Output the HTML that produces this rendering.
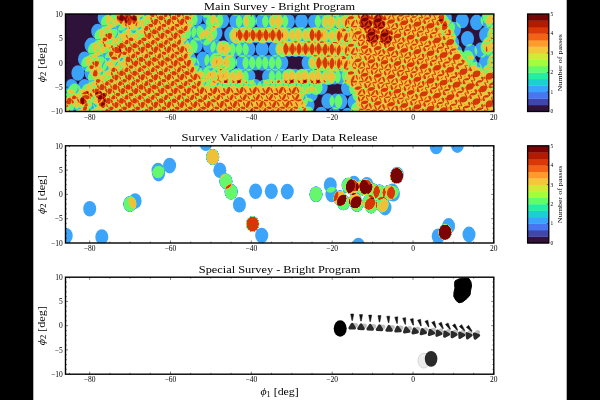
<!DOCTYPE html>
<html><head><meta charset="utf-8"><title>Survey coverage</title>
<style>
html,body{margin:0;padding:0;background:#000;width:600px;height:400px;overflow:hidden}
svg{display:block;position:absolute;left:0;top:0}
text{font-family:"Liberation Serif","DejaVu Serif",serif;fill:#000}
.tk{font-size:7.5px}
.ti{font-size:10.6px}
.al{font-size:10.6px}
.cb{font-size:5.4px}
.cl{font-size:7px}
</style></head><body>
<svg width="600" height="400" viewBox="0 0 600 400">
<defs>
<filter id="m1" x="0" y="0" width="100%" height="100%" filterUnits="objectBoundingBox" color-interpolation-filters="sRGB"><feColorMatrix type="matrix" values="0 0 0 1 0 0 0 0 1 0 0 0 0 1 0 0 0 0 0 1"/><feComponentTransfer><feFuncR type="table" tableValues="0.188 0.191 0.193 0.196 0.198 0.201 0.203 0.206 0.208 0.211 0.213 0.216 0.218 0.221 0.223 0.226 0.231 0.244 0.257 0.27 0.282 0.295 0.308 0.321 0.334 0.347 0.36 0.373 0.409 0.474 0.539 0.604 0.669 0.734 0.799 0.864 0.929 0.948 0.933 0.917 0.902 0.887 0.871 0.856 0.784 0.709 0.633 0.558 0.482 0.478 0.478 0.478 0.478 0.478 0.478 0.478 0.478 0.478 0.478 0.478 0.478 0.478 0.478 0.478"/><feFuncG type="table" tableValues="0.071 0.107 0.143 0.179 0.215 0.251 0.287 0.323 0.359 0.396 0.432 0.468 0.504 0.54 0.576 0.612 0.647 0.676 0.706 0.735 0.765 0.794 0.824 0.853 0.883 0.913 0.942 0.972 0.978 0.955 0.931 0.908 0.884 0.861 0.837 0.814 0.79 0.732 0.648 0.564 0.481 0.397 0.313 0.229 0.185 0.143 0.101 0.059 0.018 0.016 0.016 0.016 0.016 0.016 0.016 0.016 0.016 0.016 0.016 0.016 0.016 0.016 0.016 0.016"/><feFuncB type="table" tableValues="0.231 0.279 0.327 0.376 0.424 0.472 0.52 0.568 0.616 0.664 0.712 0.76 0.808 0.856 0.904 0.952 0.976 0.928 0.881 0.833 0.785 0.737 0.689 0.642 0.594 0.546 0.498 0.45 0.414 0.392 0.37 0.347 0.325 0.303 0.281 0.259 0.237 0.21 0.18 0.15 0.12 0.09 0.06 0.029 0.025 0.021 0.018 0.015 0.012 0.012 0.012 0.012 0.012 0.012 0.012 0.012 0.012 0.012 0.012 0.012 0.012 0.012 0.012 0.012"/></feComponentTransfer><feGaussianBlur stdDeviation="0.45"/></filter>
<filter id="m2" x="0" y="0" width="100%" height="100%" filterUnits="objectBoundingBox" color-interpolation-filters="sRGB"><feColorMatrix type="matrix" values="0 0 0 1 0 0 0 0 1 0 0 0 0 1 0 0 0 0 0 1"/><feComponentTransfer><feFuncR type="table" tableValues="1 0.951 0.902 0.853 0.804 0.755 0.706 0.657 0.608 0.559 0.509 0.46 0.411 0.362 0.313 0.264 0.231 0.244 0.257 0.27 0.282 0.295 0.308 0.321 0.334 0.347 0.36 0.373 0.409 0.474 0.539 0.604 0.669 0.734 0.799 0.864 0.929 0.948 0.933 0.917 0.902 0.887 0.871 0.856 0.784 0.709 0.633 0.558 0.482 0.478 0.478 0.478 0.478 0.478 0.478 0.478 0.478 0.478 0.478 0.478 0.478 0.478 0.478 0.478"/><feFuncG type="table" tableValues="1 0.977 0.954 0.931 0.908 0.885 0.863 0.84 0.817 0.794 0.771 0.748 0.725 0.702 0.679 0.656 0.647 0.676 0.706 0.735 0.765 0.794 0.824 0.853 0.883 0.913 0.942 0.972 0.978 0.955 0.931 0.908 0.884 0.861 0.837 0.814 0.79 0.732 0.648 0.564 0.481 0.397 0.313 0.229 0.185 0.143 0.101 0.059 0.018 0.016 0.016 0.016 0.016 0.016 0.016 0.016 0.016 0.016 0.016 0.016 0.016 0.016 0.016 0.016"/><feFuncB type="table" tableValues="1 0.999 0.999 0.998 0.997 0.996 0.996 0.995 0.994 0.993 0.993 0.992 0.991 0.99 0.99 0.989 0.976 0.928 0.881 0.833 0.785 0.737 0.689 0.642 0.594 0.546 0.498 0.45 0.414 0.392 0.37 0.347 0.325 0.303 0.281 0.259 0.237 0.21 0.18 0.15 0.12 0.09 0.06 0.029 0.025 0.021 0.018 0.015 0.012 0.012 0.012 0.012 0.012 0.012 0.012 0.012 0.012 0.012 0.012 0.012 0.012 0.012 0.012 0.012"/></feComponentTransfer><feGaussianBlur stdDeviation="0.45"/></filter>
<clipPath id="c1"><rect x="65.5" y="14.0" width="428.3" height="97.5"/></clipPath>
<clipPath id="c2"><rect x="65.5" y="145.8" width="428.3" height="97.2"/></clipPath>
<clipPath id="c3"><rect x="65.5" y="277.2" width="428.3" height="97.0"/></clipPath>
</defs>
<rect x="33.3" y="0" width="533.4" height="400" fill="#fff"/>
<g filter="url(#m1)" clip-path="url(#c1)"><rect x="62.5" y="11.0" width="434.3" height="103.5" fill="#000" fill-opacity="0"/><g fill="#000" fill-opacity="0.25">
<ellipse cx="485.6" cy="7.2" rx="6.5" ry="7.8"/><ellipse cx="498.8" cy="9.7" rx="6.5" ry="7.8"/><ellipse cx="124.0" cy="4.0" rx="6.5" ry="7.8"/><ellipse cx="137.1" cy="4.0" rx="6.5" ry="7.8"/>
<ellipse cx="150.3" cy="4.0" rx="6.5" ry="7.8"/><ellipse cx="163.4" cy="4.0" rx="6.5" ry="7.8"/><ellipse cx="176.6" cy="4.0" rx="6.5" ry="7.8"/><ellipse cx="189.7" cy="4.0" rx="6.5" ry="7.8"/>
<ellipse cx="202.9" cy="4.0" rx="6.5" ry="7.8"/><ellipse cx="216.0" cy="5.4" rx="6.5" ry="7.8"/><ellipse cx="229.2" cy="7.5" rx="6.5" ry="7.8"/><ellipse cx="242.3" cy="7.5" rx="6.5" ry="7.8"/>
<ellipse cx="255.5" cy="7.5" rx="6.5" ry="7.8"/><ellipse cx="268.6" cy="7.5" rx="6.5" ry="7.8"/><ellipse cx="281.8" cy="7.5" rx="6.5" ry="7.8"/><ellipse cx="294.9" cy="7.5" rx="6.5" ry="7.8"/>
<ellipse cx="308.1" cy="7.5" rx="6.5" ry="7.8"/><ellipse cx="321.2" cy="7.7" rx="6.5" ry="7.8"/><ellipse cx="334.4" cy="8.1" rx="6.5" ry="7.8"/><ellipse cx="347.5" cy="6.9" rx="6.5" ry="7.8"/>
<ellipse cx="360.7" cy="5.8" rx="6.5" ry="7.8"/><ellipse cx="373.8" cy="6.7" rx="6.5" ry="7.8"/><ellipse cx="387.0" cy="7.7" rx="6.5" ry="7.8"/><ellipse cx="400.1" cy="9.0" rx="6.5" ry="7.8"/>
<ellipse cx="413.3" cy="10.3" rx="6.5" ry="7.8"/><ellipse cx="426.4" cy="11.9" rx="6.5" ry="7.8"/><ellipse cx="439.6" cy="13.6" rx="6.5" ry="7.8"/><ellipse cx="492.2" cy="22.2" rx="6.5" ry="7.8"/>
<ellipse cx="104.2" cy="17.8" rx="6.5" ry="7.8"/><ellipse cx="117.4" cy="17.8" rx="6.5" ry="7.8"/><ellipse cx="130.5" cy="17.8" rx="6.5" ry="7.8"/><ellipse cx="156.8" cy="17.8" rx="6.5" ry="7.8"/>
<ellipse cx="170.0" cy="17.8" rx="6.5" ry="7.8"/><ellipse cx="183.1" cy="17.8" rx="6.5" ry="7.8"/><ellipse cx="196.3" cy="17.8" rx="6.5" ry="7.8"/><ellipse cx="209.4" cy="18.1" rx="6.5" ry="7.8"/>
<ellipse cx="222.6" cy="20.6" rx="6.5" ry="7.8"/><ellipse cx="235.8" cy="21.3" rx="6.5" ry="7.8"/><ellipse cx="248.9" cy="21.3" rx="6.5" ry="7.8"/><ellipse cx="262.1" cy="21.3" rx="6.5" ry="7.8"/>
<ellipse cx="275.2" cy="21.3" rx="6.5" ry="7.8"/><ellipse cx="288.4" cy="21.3" rx="6.5" ry="7.8"/><ellipse cx="301.5" cy="21.3" rx="6.5" ry="7.8"/><ellipse cx="314.6" cy="21.4" rx="6.5" ry="7.8"/>
<ellipse cx="327.8" cy="21.7" rx="6.5" ry="7.8"/><ellipse cx="340.9" cy="21.6" rx="6.5" ry="7.8"/><ellipse cx="354.1" cy="19.7" rx="6.5" ry="7.8"/><ellipse cx="367.2" cy="20.0" rx="6.5" ry="7.8"/>
<ellipse cx="380.4" cy="21.0" rx="6.5" ry="7.8"/><ellipse cx="393.6" cy="22.1" rx="6.5" ry="7.8"/><ellipse cx="406.7" cy="23.4" rx="6.5" ry="7.8"/><ellipse cx="419.9" cy="24.9" rx="6.5" ry="7.8"/>
<ellipse cx="433.0" cy="26.5" rx="6.5" ry="7.8"/><ellipse cx="485.6" cy="34.8" rx="6.5" ry="7.8"/><ellipse cx="498.8" cy="37.3" rx="6.5" ry="7.8"/><ellipse cx="97.7" cy="31.6" rx="6.5" ry="7.8"/>
<ellipse cx="110.8" cy="31.6" rx="6.5" ry="7.8"/><ellipse cx="124.0" cy="31.6" rx="6.5" ry="7.8"/><ellipse cx="150.3" cy="31.6" rx="6.5" ry="7.8"/><ellipse cx="163.4" cy="31.6" rx="6.5" ry="7.8"/>
<ellipse cx="176.6" cy="31.6" rx="6.5" ry="7.8"/><ellipse cx="189.7" cy="31.6" rx="6.5" ry="7.8"/><ellipse cx="202.9" cy="31.6" rx="6.5" ry="7.8"/><ellipse cx="216.0" cy="33.0" rx="6.5" ry="7.8"/>
<ellipse cx="242.3" cy="35.1" rx="6.5" ry="7.8"/><ellipse cx="255.5" cy="35.1" rx="6.5" ry="7.8"/><ellipse cx="268.6" cy="35.1" rx="6.5" ry="7.8"/><ellipse cx="281.8" cy="35.1" rx="6.5" ry="7.8"/>
<ellipse cx="294.9" cy="35.1" rx="6.5" ry="7.8"/><ellipse cx="308.1" cy="35.1" rx="6.5" ry="7.8"/><ellipse cx="321.2" cy="35.3" rx="6.5" ry="7.8"/><ellipse cx="334.4" cy="35.7" rx="6.5" ry="7.8"/>
<ellipse cx="347.5" cy="34.5" rx="6.5" ry="7.8"/><ellipse cx="360.7" cy="33.4" rx="6.5" ry="7.8"/><ellipse cx="373.8" cy="34.3" rx="6.5" ry="7.8"/><ellipse cx="387.0" cy="35.3" rx="6.5" ry="7.8"/>
<ellipse cx="400.1" cy="36.6" rx="6.5" ry="7.8"/><ellipse cx="413.3" cy="37.9" rx="6.5" ry="7.8"/><ellipse cx="426.4" cy="39.5" rx="6.5" ry="7.8"/><ellipse cx="439.6" cy="41.2" rx="6.5" ry="7.8"/>
<ellipse cx="452.7" cy="43.1" rx="6.5" ry="7.8"/><ellipse cx="492.2" cy="49.8" rx="6.5" ry="7.8"/><ellipse cx="91.1" cy="45.4" rx="6.5" ry="7.8"/><ellipse cx="104.2" cy="45.4" rx="6.5" ry="7.8"/>
<ellipse cx="117.4" cy="45.4" rx="6.5" ry="7.8"/><ellipse cx="130.5" cy="45.4" rx="6.5" ry="7.8"/><ellipse cx="143.7" cy="45.4" rx="6.5" ry="7.8"/><ellipse cx="156.8" cy="45.4" rx="6.5" ry="7.8"/>
<ellipse cx="170.0" cy="45.4" rx="6.5" ry="7.8"/><ellipse cx="183.1" cy="45.4" rx="6.5" ry="7.8"/><ellipse cx="196.3" cy="45.4" rx="6.5" ry="7.8"/><ellipse cx="209.4" cy="45.7" rx="6.5" ry="7.8"/>
<ellipse cx="222.6" cy="48.2" rx="6.5" ry="7.8"/><ellipse cx="235.8" cy="48.9" rx="6.5" ry="7.8"/><ellipse cx="248.9" cy="48.9" rx="6.5" ry="7.8"/><ellipse cx="262.1" cy="48.9" rx="6.5" ry="7.8"/>
<ellipse cx="275.2" cy="48.9" rx="6.5" ry="7.8"/><ellipse cx="288.4" cy="48.9" rx="6.5" ry="7.8"/><ellipse cx="301.5" cy="48.9" rx="6.5" ry="7.8"/><ellipse cx="314.6" cy="49.0" rx="6.5" ry="7.8"/>
<ellipse cx="327.8" cy="49.3" rx="6.5" ry="7.8"/><ellipse cx="340.9" cy="49.2" rx="6.5" ry="7.8"/><ellipse cx="354.1" cy="47.3" rx="6.5" ry="7.8"/><ellipse cx="367.2" cy="47.6" rx="6.5" ry="7.8"/>
<ellipse cx="380.4" cy="48.6" rx="6.5" ry="7.8"/><ellipse cx="393.6" cy="49.7" rx="6.5" ry="7.8"/><ellipse cx="406.7" cy="51.0" rx="6.5" ry="7.8"/><ellipse cx="419.9" cy="52.5" rx="6.5" ry="7.8"/>
<ellipse cx="433.0" cy="54.1" rx="6.5" ry="7.8"/><ellipse cx="446.1" cy="55.9" rx="6.5" ry="7.8"/><ellipse cx="459.3" cy="57.9" rx="6.5" ry="7.8"/><ellipse cx="485.6" cy="62.4" rx="6.5" ry="7.8"/>
<ellipse cx="498.8" cy="64.9" rx="6.5" ry="7.8"/><ellipse cx="84.5" cy="59.2" rx="6.5" ry="7.8"/><ellipse cx="97.7" cy="59.2" rx="6.5" ry="7.8"/><ellipse cx="110.8" cy="59.2" rx="6.5" ry="7.8"/>
<ellipse cx="124.0" cy="59.2" rx="6.5" ry="7.8"/><ellipse cx="137.1" cy="59.2" rx="6.5" ry="7.8"/><ellipse cx="150.3" cy="59.2" rx="6.5" ry="7.8"/><ellipse cx="163.4" cy="59.2" rx="6.5" ry="7.8"/>
<ellipse cx="176.6" cy="59.2" rx="6.5" ry="7.8"/><ellipse cx="189.7" cy="59.2" rx="6.5" ry="7.8"/><ellipse cx="202.9" cy="59.2" rx="6.5" ry="7.8"/><ellipse cx="216.0" cy="60.6" rx="6.5" ry="7.8"/>
<ellipse cx="229.2" cy="62.7" rx="6.5" ry="7.8"/><ellipse cx="242.3" cy="62.7" rx="6.5" ry="7.8"/><ellipse cx="255.5" cy="62.7" rx="6.5" ry="7.8"/><ellipse cx="268.6" cy="62.7" rx="6.5" ry="7.8"/>
<ellipse cx="281.8" cy="62.7" rx="6.5" ry="7.8"/><ellipse cx="308.1" cy="62.7" rx="6.5" ry="7.8"/><ellipse cx="321.2" cy="62.9" rx="6.5" ry="7.8"/><ellipse cx="334.4" cy="63.3" rx="6.5" ry="7.8"/>
<ellipse cx="347.5" cy="62.1" rx="6.5" ry="7.8"/><ellipse cx="360.7" cy="61.0" rx="6.5" ry="7.8"/><ellipse cx="373.8" cy="61.9" rx="6.5" ry="7.8"/><ellipse cx="387.0" cy="62.9" rx="6.5" ry="7.8"/>
<ellipse cx="400.1" cy="64.2" rx="6.5" ry="7.8"/><ellipse cx="413.3" cy="65.5" rx="6.5" ry="7.8"/><ellipse cx="426.4" cy="67.1" rx="6.5" ry="7.8"/><ellipse cx="439.6" cy="68.8" rx="6.5" ry="7.8"/>
<ellipse cx="452.7" cy="70.7" rx="6.5" ry="7.8"/><ellipse cx="465.9" cy="72.8" rx="6.5" ry="7.8"/><ellipse cx="479.0" cy="75.0" rx="6.5" ry="7.8"/><ellipse cx="492.2" cy="77.4" rx="6.5" ry="7.8"/>
<ellipse cx="77.9" cy="73.0" rx="6.5" ry="7.8"/><ellipse cx="91.1" cy="73.0" rx="6.5" ry="7.8"/><ellipse cx="117.4" cy="73.0" rx="6.5" ry="7.8"/><ellipse cx="130.5" cy="73.0" rx="6.5" ry="7.8"/>
<ellipse cx="143.7" cy="73.0" rx="6.5" ry="7.8"/><ellipse cx="156.8" cy="73.0" rx="6.5" ry="7.8"/><ellipse cx="170.0" cy="73.0" rx="6.5" ry="7.8"/><ellipse cx="183.1" cy="73.0" rx="6.5" ry="7.8"/>
<ellipse cx="196.3" cy="73.0" rx="6.5" ry="7.8"/><ellipse cx="209.4" cy="73.3" rx="6.5" ry="7.8"/><ellipse cx="222.6" cy="75.8" rx="6.5" ry="7.8"/><ellipse cx="235.8" cy="76.5" rx="6.5" ry="7.8"/>
<ellipse cx="248.9" cy="76.5" rx="6.5" ry="7.8"/><ellipse cx="275.2" cy="76.5" rx="6.5" ry="7.8"/><ellipse cx="288.4" cy="76.5" rx="6.5" ry="7.8"/><ellipse cx="301.5" cy="76.5" rx="6.5" ry="7.8"/>
<ellipse cx="314.6" cy="76.6" rx="6.5" ry="7.8"/><ellipse cx="327.8" cy="76.9" rx="6.5" ry="7.8"/><ellipse cx="340.9" cy="76.8" rx="6.5" ry="7.8"/><ellipse cx="354.1" cy="74.9" rx="6.5" ry="7.8"/>
<ellipse cx="367.2" cy="75.2" rx="6.5" ry="7.8"/><ellipse cx="380.4" cy="76.2" rx="6.5" ry="7.8"/><ellipse cx="393.6" cy="77.3" rx="6.5" ry="7.8"/><ellipse cx="406.7" cy="78.6" rx="6.5" ry="7.8"/>
<ellipse cx="419.9" cy="80.1" rx="6.5" ry="7.8"/><ellipse cx="433.0" cy="81.7" rx="6.5" ry="7.8"/><ellipse cx="446.1" cy="83.5" rx="6.5" ry="7.8"/><ellipse cx="459.3" cy="85.5" rx="6.5" ry="7.8"/>
<ellipse cx="472.5" cy="87.7" rx="6.5" ry="7.8"/><ellipse cx="485.6" cy="90.0" rx="6.5" ry="7.8"/><ellipse cx="498.8" cy="92.5" rx="6.5" ry="7.8"/><ellipse cx="71.4" cy="86.8" rx="6.5" ry="7.8"/>
<ellipse cx="84.5" cy="86.8" rx="6.5" ry="7.8"/><ellipse cx="97.7" cy="86.8" rx="6.5" ry="7.8"/><ellipse cx="110.8" cy="86.8" rx="6.5" ry="7.8"/><ellipse cx="124.0" cy="86.8" rx="6.5" ry="7.8"/>
<ellipse cx="137.1" cy="86.8" rx="6.5" ry="7.8"/><ellipse cx="150.3" cy="86.8" rx="6.5" ry="7.8"/><ellipse cx="163.4" cy="86.8" rx="6.5" ry="7.8"/><ellipse cx="176.6" cy="86.8" rx="6.5" ry="7.8"/>
<ellipse cx="189.7" cy="86.8" rx="6.5" ry="7.8"/><ellipse cx="202.9" cy="86.8" rx="6.5" ry="7.8"/><ellipse cx="216.0" cy="86.8" rx="6.5" ry="7.8"/><ellipse cx="229.2" cy="86.8" rx="6.5" ry="7.8"/>
<ellipse cx="242.3" cy="86.8" rx="6.5" ry="7.8"/><ellipse cx="255.5" cy="86.8" rx="6.5" ry="7.8"/><ellipse cx="268.6" cy="86.8" rx="6.5" ry="7.8"/><ellipse cx="281.8" cy="86.8" rx="6.5" ry="7.8"/>
<ellipse cx="294.9" cy="86.8" rx="6.5" ry="7.8"/><ellipse cx="308.1" cy="86.8" rx="6.5" ry="7.8"/><ellipse cx="321.2" cy="87.0" rx="6.5" ry="7.8"/><ellipse cx="347.5" cy="87.9" rx="6.5" ry="7.8"/>
<ellipse cx="360.7" cy="88.6" rx="6.5" ry="7.8"/><ellipse cx="373.8" cy="89.5" rx="6.5" ry="7.8"/><ellipse cx="387.0" cy="90.5" rx="6.5" ry="7.8"/><ellipse cx="400.1" cy="91.8" rx="6.5" ry="7.8"/>
<ellipse cx="413.3" cy="93.1" rx="6.5" ry="7.8"/><ellipse cx="426.4" cy="94.7" rx="6.5" ry="7.8"/><ellipse cx="439.6" cy="96.4" rx="6.5" ry="7.8"/><ellipse cx="452.7" cy="98.3" rx="6.5" ry="7.8"/>
<ellipse cx="465.9" cy="100.4" rx="6.5" ry="7.8"/><ellipse cx="479.0" cy="102.6" rx="6.5" ry="7.8"/><ellipse cx="492.2" cy="105.0" rx="6.5" ry="7.8"/><ellipse cx="64.8" cy="100.6" rx="6.5" ry="7.8"/>
<ellipse cx="77.9" cy="100.6" rx="6.5" ry="7.8"/><ellipse cx="104.2" cy="100.6" rx="6.5" ry="7.8"/><ellipse cx="117.4" cy="100.6" rx="6.5" ry="7.8"/><ellipse cx="130.5" cy="100.6" rx="6.5" ry="7.8"/>
<ellipse cx="143.7" cy="100.6" rx="6.5" ry="7.8"/><ellipse cx="156.8" cy="100.6" rx="6.5" ry="7.8"/><ellipse cx="170.0" cy="100.6" rx="6.5" ry="7.8"/><ellipse cx="183.1" cy="100.6" rx="6.5" ry="7.8"/>
<ellipse cx="196.3" cy="100.6" rx="6.5" ry="7.8"/><ellipse cx="209.4" cy="100.6" rx="6.5" ry="7.8"/><ellipse cx="222.6" cy="100.6" rx="6.5" ry="7.8"/><ellipse cx="235.8" cy="100.6" rx="6.5" ry="7.8"/>
<ellipse cx="248.9" cy="100.6" rx="6.5" ry="7.8"/><ellipse cx="262.1" cy="100.6" rx="6.5" ry="7.8"/><ellipse cx="275.2" cy="100.6" rx="6.5" ry="7.8"/><ellipse cx="288.4" cy="100.6" rx="6.5" ry="7.8"/>
<ellipse cx="301.5" cy="100.6" rx="6.5" ry="7.8"/><ellipse cx="327.8" cy="101.0" rx="6.5" ry="7.8"/><ellipse cx="340.9" cy="101.4" rx="6.5" ry="7.8"/><ellipse cx="354.1" cy="102.1" rx="6.5" ry="7.8"/>
<ellipse cx="367.2" cy="102.8" rx="6.5" ry="7.8"/><ellipse cx="380.4" cy="103.8" rx="6.5" ry="7.8"/><ellipse cx="393.6" cy="104.9" rx="6.5" ry="7.8"/><ellipse cx="406.7" cy="106.2" rx="6.5" ry="7.8"/>
<ellipse cx="419.9" cy="107.7" rx="6.5" ry="7.8"/><ellipse cx="433.0" cy="109.3" rx="6.5" ry="7.8"/><ellipse cx="446.1" cy="111.1" rx="6.5" ry="7.8"/><ellipse cx="459.3" cy="113.1" rx="6.5" ry="7.8"/>
<ellipse cx="472.5" cy="115.3" rx="6.5" ry="7.8"/><ellipse cx="485.6" cy="117.6" rx="6.5" ry="7.8"/><ellipse cx="498.8" cy="120.1" rx="6.5" ry="7.8"/><ellipse cx="58.2" cy="114.4" rx="6.5" ry="7.8"/>
<ellipse cx="84.5" cy="114.4" rx="6.5" ry="7.8"/><ellipse cx="97.7" cy="114.4" rx="6.5" ry="7.8"/><ellipse cx="110.8" cy="114.4" rx="6.5" ry="7.8"/><ellipse cx="124.0" cy="114.4" rx="6.5" ry="7.8"/>
<ellipse cx="137.1" cy="114.4" rx="6.5" ry="7.8"/><ellipse cx="150.3" cy="114.4" rx="6.5" ry="7.8"/><ellipse cx="163.4" cy="114.4" rx="6.5" ry="7.8"/><ellipse cx="176.6" cy="114.4" rx="6.5" ry="7.8"/>
<ellipse cx="189.7" cy="114.4" rx="6.5" ry="7.8"/><ellipse cx="202.9" cy="114.4" rx="6.5" ry="7.8"/><ellipse cx="216.0" cy="114.4" rx="6.5" ry="7.8"/><ellipse cx="229.2" cy="114.4" rx="6.5" ry="7.8"/>
<ellipse cx="242.3" cy="114.4" rx="6.5" ry="7.8"/><ellipse cx="255.5" cy="114.4" rx="6.5" ry="7.8"/><ellipse cx="268.6" cy="114.4" rx="6.5" ry="7.8"/><ellipse cx="281.8" cy="114.4" rx="6.5" ry="7.8"/>
<ellipse cx="294.9" cy="114.4" rx="6.5" ry="7.8"/><ellipse cx="308.1" cy="114.4" rx="6.5" ry="7.8"/><ellipse cx="321.2" cy="114.6" rx="6.5" ry="7.8"/><ellipse cx="334.4" cy="115.0" rx="6.5" ry="7.8"/>
<ellipse cx="347.5" cy="115.5" rx="6.5" ry="7.8"/><ellipse cx="360.7" cy="116.2" rx="6.5" ry="7.8"/><ellipse cx="373.8" cy="117.1" rx="6.5" ry="7.8"/><ellipse cx="387.0" cy="118.1" rx="6.5" ry="7.8"/>
<ellipse cx="400.1" cy="119.4" rx="6.5" ry="7.8"/><ellipse cx="413.3" cy="120.7" rx="6.5" ry="7.8"/><ellipse cx="493.7" cy="7.3" rx="6.5" ry="7.8"/><ellipse cx="118.9" cy="6.0" rx="6.5" ry="7.8"/>
<ellipse cx="132.0" cy="5.9" rx="6.5" ry="7.8"/><ellipse cx="145.2" cy="5.8" rx="6.5" ry="7.8"/><ellipse cx="158.3" cy="5.7" rx="6.5" ry="7.8"/><ellipse cx="171.5" cy="5.6" rx="6.5" ry="7.8"/>
<ellipse cx="184.6" cy="5.5" rx="6.5" ry="7.8"/><ellipse cx="197.8" cy="5.4" rx="6.5" ry="7.8"/><ellipse cx="210.8" cy="5.5" rx="6.5" ry="7.8"/><ellipse cx="222.9" cy="7.5" rx="6.5" ry="7.8"/>
<ellipse cx="235.7" cy="8.0" rx="6.5" ry="7.8"/><ellipse cx="248.9" cy="7.9" rx="6.5" ry="7.8"/><ellipse cx="262.0" cy="7.8" rx="6.5" ry="7.8"/><ellipse cx="275.2" cy="7.7" rx="6.5" ry="7.8"/>
<ellipse cx="327.8" cy="7.7" rx="6.5" ry="7.8"/><ellipse cx="341.2" cy="7.6" rx="6.5" ry="7.8"/><ellipse cx="355.4" cy="5.9" rx="6.5" ry="7.8"/><ellipse cx="368.8" cy="6.2" rx="6.5" ry="7.8"/>
<ellipse cx="381.9" cy="7.0" rx="6.5" ry="7.8"/><ellipse cx="395.0" cy="8.0" rx="6.5" ry="7.8"/><ellipse cx="408.2" cy="9.2" rx="6.5" ry="7.8"/><ellipse cx="421.3" cy="10.6" rx="6.5" ry="7.8"/>
<ellipse cx="434.5" cy="12.1" rx="6.5" ry="7.8"/><ellipse cx="487.1" cy="19.9" rx="6.5" ry="7.8"/><ellipse cx="500.2" cy="22.3" rx="6.5" ry="7.8"/><ellipse cx="112.3" cy="19.9" rx="6.5" ry="7.8"/>
<ellipse cx="125.5" cy="19.8" rx="6.5" ry="7.8"/><ellipse cx="138.6" cy="19.7" rx="6.5" ry="7.8"/><ellipse cx="151.8" cy="19.6" rx="6.5" ry="7.8"/><ellipse cx="164.9" cy="19.5" rx="6.5" ry="7.8"/>
<ellipse cx="178.1" cy="19.3" rx="6.5" ry="7.8"/><ellipse cx="191.2" cy="19.2" rx="6.5" ry="7.8"/><ellipse cx="216.9" cy="20.2" rx="6.5" ry="7.8"/><ellipse cx="242.3" cy="21.8" rx="6.5" ry="7.8"/>
<ellipse cx="268.6" cy="21.6" rx="6.5" ry="7.8"/><ellipse cx="281.8" cy="21.5" rx="6.5" ry="7.8"/><ellipse cx="321.2" cy="21.3" rx="6.5" ry="7.8"/><ellipse cx="334.4" cy="21.6" rx="6.5" ry="7.8"/>
<ellipse cx="348.3" cy="20.5" rx="6.5" ry="7.8"/><ellipse cx="362.2" cy="19.6" rx="6.5" ry="7.8"/><ellipse cx="375.3" cy="20.4" rx="6.5" ry="7.8"/><ellipse cx="388.5" cy="21.3" rx="6.5" ry="7.8"/>
<ellipse cx="401.6" cy="22.4" rx="6.5" ry="7.8"/><ellipse cx="414.8" cy="23.7" rx="6.5" ry="7.8"/><ellipse cx="427.9" cy="25.1" rx="6.5" ry="7.8"/><ellipse cx="441.1" cy="26.7" rx="6.5" ry="7.8"/>
<ellipse cx="493.7" cy="34.9" rx="6.5" ry="7.8"/><ellipse cx="105.7" cy="33.7" rx="6.5" ry="7.8"/><ellipse cx="132.0" cy="33.5" rx="6.5" ry="7.8"/><ellipse cx="145.2" cy="33.4" rx="6.5" ry="7.8"/>
<ellipse cx="158.3" cy="33.3" rx="6.5" ry="7.8"/><ellipse cx="171.5" cy="33.2" rx="6.5" ry="7.8"/><ellipse cx="184.6" cy="33.1" rx="6.5" ry="7.8"/><ellipse cx="197.8" cy="33.0" rx="6.5" ry="7.8"/>
<ellipse cx="210.8" cy="33.1" rx="6.5" ry="7.8"/><ellipse cx="235.7" cy="35.6" rx="6.5" ry="7.8"/><ellipse cx="248.9" cy="35.5" rx="6.5" ry="7.8"/><ellipse cx="262.0" cy="35.4" rx="6.5" ry="7.8"/>
<ellipse cx="275.2" cy="35.3" rx="6.5" ry="7.8"/><ellipse cx="288.3" cy="35.2" rx="6.5" ry="7.8"/><ellipse cx="301.5" cy="35.1" rx="6.5" ry="7.8"/><ellipse cx="314.6" cy="35.1" rx="6.5" ry="7.8"/>
<ellipse cx="327.8" cy="35.3" rx="6.5" ry="7.8"/><ellipse cx="341.2" cy="35.2" rx="6.5" ry="7.8"/><ellipse cx="355.4" cy="33.5" rx="6.5" ry="7.8"/><ellipse cx="368.8" cy="33.8" rx="6.5" ry="7.8"/>
<ellipse cx="381.9" cy="34.6" rx="6.5" ry="7.8"/><ellipse cx="395.0" cy="35.6" rx="6.5" ry="7.8"/><ellipse cx="408.2" cy="36.8" rx="6.5" ry="7.8"/><ellipse cx="421.3" cy="38.2" rx="6.5" ry="7.8"/>
<ellipse cx="434.5" cy="39.7" rx="6.5" ry="7.8"/><ellipse cx="447.6" cy="41.4" rx="6.5" ry="7.8"/><ellipse cx="487.1" cy="47.5" rx="6.5" ry="7.8"/><ellipse cx="500.2" cy="49.9" rx="6.5" ry="7.8"/>
<ellipse cx="99.2" cy="47.6" rx="6.5" ry="7.8"/><ellipse cx="125.5" cy="47.4" rx="6.5" ry="7.8"/><ellipse cx="138.6" cy="47.3" rx="6.5" ry="7.8"/><ellipse cx="151.8" cy="47.2" rx="6.5" ry="7.8"/>
<ellipse cx="164.9" cy="47.1" rx="6.5" ry="7.8"/><ellipse cx="178.1" cy="46.9" rx="6.5" ry="7.8"/><ellipse cx="191.2" cy="46.8" rx="6.5" ry="7.8"/><ellipse cx="216.9" cy="47.8" rx="6.5" ry="7.8"/>
<ellipse cx="229.2" cy="49.5" rx="6.5" ry="7.8"/><ellipse cx="242.3" cy="49.4" rx="6.5" ry="7.8"/><ellipse cx="281.8" cy="49.1" rx="6.5" ry="7.8"/><ellipse cx="294.9" cy="48.9" rx="6.5" ry="7.8"/>
<ellipse cx="308.1" cy="48.9" rx="6.5" ry="7.8"/><ellipse cx="321.2" cy="48.9" rx="6.5" ry="7.8"/><ellipse cx="334.4" cy="49.2" rx="6.5" ry="7.8"/><ellipse cx="348.3" cy="48.1" rx="6.5" ry="7.8"/>
<ellipse cx="362.2" cy="47.2" rx="6.5" ry="7.8"/><ellipse cx="375.3" cy="48.0" rx="6.5" ry="7.8"/><ellipse cx="388.5" cy="48.9" rx="6.5" ry="7.8"/><ellipse cx="401.6" cy="50.0" rx="6.5" ry="7.8"/>
<ellipse cx="414.8" cy="51.3" rx="6.5" ry="7.8"/><ellipse cx="427.9" cy="52.7" rx="6.5" ry="7.8"/><ellipse cx="441.1" cy="54.3" rx="6.5" ry="7.8"/><ellipse cx="454.2" cy="56.1" rx="6.5" ry="7.8"/>
<ellipse cx="467.4" cy="58.1" rx="6.5" ry="7.8"/><ellipse cx="493.7" cy="62.5" rx="6.5" ry="7.8"/><ellipse cx="92.6" cy="61.5" rx="6.5" ry="7.8"/><ellipse cx="132.0" cy="61.1" rx="6.5" ry="7.8"/>
<ellipse cx="145.2" cy="61.0" rx="6.5" ry="7.8"/><ellipse cx="158.3" cy="60.9" rx="6.5" ry="7.8"/><ellipse cx="171.5" cy="60.8" rx="6.5" ry="7.8"/><ellipse cx="184.6" cy="60.7" rx="6.5" ry="7.8"/>
<ellipse cx="210.8" cy="60.7" rx="6.5" ry="7.8"/><ellipse cx="222.9" cy="62.7" rx="6.5" ry="7.8"/><ellipse cx="248.9" cy="63.1" rx="6.5" ry="7.8"/><ellipse cx="262.0" cy="63.0" rx="6.5" ry="7.8"/>
<ellipse cx="275.2" cy="62.9" rx="6.5" ry="7.8"/><ellipse cx="314.6" cy="62.7" rx="6.5" ry="7.8"/><ellipse cx="327.8" cy="62.9" rx="6.5" ry="7.8"/><ellipse cx="341.2" cy="62.8" rx="6.5" ry="7.8"/>
<ellipse cx="355.4" cy="61.1" rx="6.5" ry="7.8"/><ellipse cx="368.8" cy="61.4" rx="6.5" ry="7.8"/><ellipse cx="381.9" cy="62.2" rx="6.5" ry="7.8"/><ellipse cx="395.0" cy="63.2" rx="6.5" ry="7.8"/>
<ellipse cx="408.2" cy="64.4" rx="6.5" ry="7.8"/><ellipse cx="421.3" cy="65.8" rx="6.5" ry="7.8"/><ellipse cx="434.5" cy="67.3" rx="6.5" ry="7.8"/><ellipse cx="447.6" cy="69.0" rx="6.5" ry="7.8"/>
<ellipse cx="460.8" cy="70.9" rx="6.5" ry="7.8"/><ellipse cx="473.9" cy="72.9" rx="6.5" ry="7.8"/><ellipse cx="487.1" cy="75.1" rx="6.5" ry="7.8"/><ellipse cx="500.2" cy="77.5" rx="6.5" ry="7.8"/>
<ellipse cx="99.2" cy="75.2" rx="6.5" ry="7.8"/><ellipse cx="112.3" cy="75.1" rx="6.5" ry="7.8"/><ellipse cx="125.5" cy="75.0" rx="6.5" ry="7.8"/><ellipse cx="138.6" cy="74.9" rx="6.5" ry="7.8"/>
<ellipse cx="151.8" cy="74.8" rx="6.5" ry="7.8"/><ellipse cx="164.9" cy="74.7" rx="6.5" ry="7.8"/><ellipse cx="178.1" cy="74.5" rx="6.5" ry="7.8"/><ellipse cx="191.2" cy="74.4" rx="6.5" ry="7.8"/>
<ellipse cx="204.4" cy="74.3" rx="6.5" ry="7.8"/><ellipse cx="216.9" cy="75.4" rx="6.5" ry="7.8"/><ellipse cx="229.2" cy="77.1" rx="6.5" ry="7.8"/><ellipse cx="242.3" cy="77.0" rx="6.5" ry="7.8"/>
<ellipse cx="268.6" cy="76.8" rx="6.5" ry="7.8"/><ellipse cx="281.8" cy="76.7" rx="6.5" ry="7.8"/><ellipse cx="294.9" cy="76.5" rx="6.5" ry="7.8"/><ellipse cx="308.1" cy="76.5" rx="6.5" ry="7.8"/>
<ellipse cx="321.2" cy="76.5" rx="6.5" ry="7.8"/><ellipse cx="334.4" cy="76.8" rx="6.5" ry="7.8"/><ellipse cx="348.3" cy="75.7" rx="6.5" ry="7.8"/><ellipse cx="362.2" cy="74.8" rx="6.5" ry="7.8"/>
<ellipse cx="375.3" cy="75.6" rx="6.5" ry="7.8"/><ellipse cx="388.5" cy="76.5" rx="6.5" ry="7.8"/><ellipse cx="401.6" cy="77.6" rx="6.5" ry="7.8"/><ellipse cx="414.8" cy="78.9" rx="6.5" ry="7.8"/>
<ellipse cx="427.9" cy="80.3" rx="6.5" ry="7.8"/><ellipse cx="441.1" cy="81.9" rx="6.5" ry="7.8"/><ellipse cx="454.2" cy="83.7" rx="6.5" ry="7.8"/><ellipse cx="467.4" cy="85.7" rx="6.5" ry="7.8"/>
<ellipse cx="480.5" cy="87.8" rx="6.5" ry="7.8"/><ellipse cx="493.7" cy="90.1" rx="6.5" ry="7.8"/><ellipse cx="92.6" cy="89.1" rx="6.5" ry="7.8"/><ellipse cx="105.7" cy="88.9" rx="6.5" ry="7.8"/>
<ellipse cx="118.9" cy="88.8" rx="6.5" ry="7.8"/><ellipse cx="132.0" cy="88.7" rx="6.5" ry="7.8"/><ellipse cx="145.2" cy="88.6" rx="6.5" ry="7.8"/><ellipse cx="158.3" cy="88.5" rx="6.5" ry="7.8"/>
<ellipse cx="171.5" cy="88.4" rx="6.5" ry="7.8"/><ellipse cx="184.6" cy="88.3" rx="6.5" ry="7.8"/><ellipse cx="197.8" cy="88.2" rx="6.5" ry="7.8"/><ellipse cx="210.9" cy="88.1" rx="6.5" ry="7.8"/>
<ellipse cx="224.1" cy="88.0" rx="6.5" ry="7.8"/><ellipse cx="237.2" cy="87.8" rx="6.5" ry="7.8"/><ellipse cx="250.4" cy="87.7" rx="6.5" ry="7.8"/><ellipse cx="263.5" cy="87.6" rx="6.5" ry="7.8"/>
<ellipse cx="276.7" cy="87.5" rx="6.5" ry="7.8"/><ellipse cx="289.8" cy="87.4" rx="6.5" ry="7.8"/><ellipse cx="303.0" cy="87.3" rx="6.5" ry="7.8"/><ellipse cx="316.1" cy="87.3" rx="6.5" ry="7.8"/>
<ellipse cx="355.6" cy="88.3" rx="6.5" ry="7.8"/><ellipse cx="368.8" cy="89.0" rx="6.5" ry="7.8"/><ellipse cx="381.9" cy="89.8" rx="6.5" ry="7.8"/><ellipse cx="395.0" cy="90.8" rx="6.5" ry="7.8"/>
<ellipse cx="408.2" cy="92.0" rx="6.5" ry="7.8"/><ellipse cx="421.3" cy="93.4" rx="6.5" ry="7.8"/><ellipse cx="434.5" cy="94.9" rx="6.5" ry="7.8"/><ellipse cx="447.6" cy="96.6" rx="6.5" ry="7.8"/>
<ellipse cx="460.8" cy="98.5" rx="6.5" ry="7.8"/><ellipse cx="473.9" cy="100.5" rx="6.5" ry="7.8"/><ellipse cx="487.1" cy="102.7" rx="6.5" ry="7.8"/><ellipse cx="500.2" cy="105.1" rx="6.5" ry="7.8"/>
<ellipse cx="59.7" cy="103.1" rx="6.5" ry="7.8"/><ellipse cx="72.9" cy="103.0" rx="6.5" ry="7.8"/><ellipse cx="86.0" cy="102.9" rx="6.5" ry="7.8"/><ellipse cx="99.2" cy="102.8" rx="6.5" ry="7.8"/>
<ellipse cx="112.3" cy="102.7" rx="6.5" ry="7.8"/><ellipse cx="125.5" cy="102.6" rx="6.5" ry="7.8"/><ellipse cx="138.6" cy="102.5" rx="6.5" ry="7.8"/><ellipse cx="151.8" cy="102.4" rx="6.5" ry="7.8"/>
<ellipse cx="164.9" cy="102.3" rx="6.5" ry="7.8"/><ellipse cx="178.1" cy="102.1" rx="6.5" ry="7.8"/><ellipse cx="191.2" cy="102.0" rx="6.5" ry="7.8"/><ellipse cx="204.4" cy="101.9" rx="6.5" ry="7.8"/>
<ellipse cx="217.5" cy="101.8" rx="6.5" ry="7.8"/><ellipse cx="230.7" cy="101.7" rx="6.5" ry="7.8"/><ellipse cx="243.8" cy="101.6" rx="6.5" ry="7.8"/><ellipse cx="257.0" cy="101.5" rx="6.5" ry="7.8"/>
<ellipse cx="270.1" cy="101.4" rx="6.5" ry="7.8"/><ellipse cx="283.3" cy="101.3" rx="6.5" ry="7.8"/><ellipse cx="296.4" cy="101.1" rx="6.5" ry="7.8"/><ellipse cx="335.9" cy="101.4" rx="6.5" ry="7.8"/>
<ellipse cx="362.2" cy="102.4" rx="6.5" ry="7.8"/><ellipse cx="375.3" cy="103.2" rx="6.5" ry="7.8"/><ellipse cx="388.5" cy="104.1" rx="6.5" ry="7.8"/><ellipse cx="401.6" cy="105.2" rx="6.5" ry="7.8"/>
<ellipse cx="414.8" cy="106.5" rx="6.5" ry="7.8"/><ellipse cx="427.9" cy="107.9" rx="6.5" ry="7.8"/><ellipse cx="441.1" cy="109.5" rx="6.5" ry="7.8"/><ellipse cx="454.2" cy="111.3" rx="6.5" ry="7.8"/>
<ellipse cx="467.4" cy="113.3" rx="6.5" ry="7.8"/><ellipse cx="480.5" cy="115.4" rx="6.5" ry="7.8"/><ellipse cx="493.7" cy="117.7" rx="6.5" ry="7.8"/><ellipse cx="66.3" cy="116.9" rx="6.5" ry="7.8"/>
<ellipse cx="79.4" cy="116.8" rx="6.5" ry="7.8"/><ellipse cx="92.6" cy="116.7" rx="6.5" ry="7.8"/><ellipse cx="105.7" cy="116.5" rx="6.5" ry="7.8"/><ellipse cx="118.9" cy="116.4" rx="6.5" ry="7.8"/>
<ellipse cx="132.0" cy="116.3" rx="6.5" ry="7.8"/><ellipse cx="145.2" cy="116.2" rx="6.5" ry="7.8"/><ellipse cx="158.3" cy="116.1" rx="6.5" ry="7.8"/><ellipse cx="171.5" cy="116.0" rx="6.5" ry="7.8"/>
<ellipse cx="184.6" cy="115.9" rx="6.5" ry="7.8"/><ellipse cx="197.8" cy="115.8" rx="6.5" ry="7.8"/><ellipse cx="210.9" cy="115.7" rx="6.5" ry="7.8"/><ellipse cx="224.1" cy="115.6" rx="6.5" ry="7.8"/>
<ellipse cx="237.2" cy="115.4" rx="6.5" ry="7.8"/><ellipse cx="250.4" cy="115.3" rx="6.5" ry="7.8"/><ellipse cx="263.5" cy="115.2" rx="6.5" ry="7.8"/><ellipse cx="276.7" cy="115.1" rx="6.5" ry="7.8"/>
<ellipse cx="289.8" cy="115.0" rx="6.5" ry="7.8"/><ellipse cx="303.0" cy="114.9" rx="6.5" ry="7.8"/><ellipse cx="355.6" cy="115.9" rx="6.5" ry="7.8"/><ellipse cx="368.8" cy="116.6" rx="6.5" ry="7.8"/>
<ellipse cx="381.9" cy="117.4" rx="6.5" ry="7.8"/><ellipse cx="395.0" cy="118.4" rx="6.5" ry="7.8"/><ellipse cx="408.2" cy="119.6" rx="6.5" ry="7.8"/><ellipse cx="421.3" cy="121.0" rx="6.5" ry="7.8"/>
<ellipse cx="410.0" cy="4.3" rx="6.5" ry="7.8"/><ellipse cx="423.1" cy="6.0" rx="6.5" ry="7.8"/><ellipse cx="436.3" cy="7.8" rx="6.5" ry="7.8"/><ellipse cx="488.9" cy="16.8" rx="6.5" ry="7.8"/>
<ellipse cx="502.0" cy="19.5" rx="6.5" ry="7.8"/><ellipse cx="140.4" cy="9.3" rx="6.5" ry="7.8"/><ellipse cx="153.6" cy="9.5" rx="6.5" ry="7.8"/><ellipse cx="166.7" cy="9.6" rx="6.5" ry="7.8"/>
<ellipse cx="179.9" cy="9.7" rx="6.5" ry="7.8"/><ellipse cx="206.2" cy="10.0" rx="6.5" ry="7.8"/><ellipse cx="270.1" cy="7.2" rx="6.5" ry="7.8"/><ellipse cx="283.3" cy="7.3" rx="6.5" ry="7.8"/>
<ellipse cx="335.9" cy="8.7" rx="6.5" ry="7.8"/><ellipse cx="350.3" cy="11.7" rx="6.5" ry="7.8"/><ellipse cx="364.0" cy="13.7" rx="6.5" ry="7.8"/><ellipse cx="377.1" cy="14.8" rx="6.5" ry="7.8"/>
<ellipse cx="390.3" cy="16.0" rx="6.5" ry="7.8"/><ellipse cx="403.4" cy="17.4" rx="6.5" ry="7.8"/><ellipse cx="416.6" cy="18.9" rx="6.5" ry="7.8"/><ellipse cx="429.7" cy="20.7" rx="6.5" ry="7.8"/>
<ellipse cx="442.9" cy="22.6" rx="6.5" ry="7.8"/><ellipse cx="495.5" cy="31.9" rx="6.5" ry="7.8"/><ellipse cx="107.5" cy="22.8" rx="6.5" ry="7.8"/><ellipse cx="120.7" cy="22.9" rx="6.5" ry="7.8"/>
<ellipse cx="133.8" cy="23.1" rx="6.5" ry="7.8"/><ellipse cx="147.0" cy="23.2" rx="6.5" ry="7.8"/><ellipse cx="160.1" cy="23.3" rx="6.5" ry="7.8"/><ellipse cx="173.3" cy="23.5" rx="6.5" ry="7.8"/>
<ellipse cx="186.4" cy="23.6" rx="6.5" ry="7.8"/><ellipse cx="212.3" cy="23.1" rx="6.5" ry="7.8"/><ellipse cx="250.4" cy="20.8" rx="6.5" ry="7.8"/><ellipse cx="276.7" cy="21.1" rx="6.5" ry="7.8"/>
<ellipse cx="329.3" cy="22.1" rx="6.5" ry="7.8"/><ellipse cx="343.0" cy="23.8" rx="6.5" ry="7.8"/><ellipse cx="357.3" cy="26.9" rx="6.5" ry="7.8"/><ellipse cx="370.5" cy="28.0" rx="6.5" ry="7.8"/>
<ellipse cx="383.7" cy="29.1" rx="6.5" ry="7.8"/><ellipse cx="396.8" cy="30.5" rx="6.5" ry="7.8"/><ellipse cx="410.0" cy="31.9" rx="6.5" ry="7.8"/><ellipse cx="423.1" cy="33.6" rx="6.5" ry="7.8"/>
<ellipse cx="436.3" cy="35.4" rx="6.5" ry="7.8"/><ellipse cx="449.4" cy="37.4" rx="6.5" ry="7.8"/><ellipse cx="488.9" cy="44.4" rx="6.5" ry="7.8"/><ellipse cx="502.0" cy="47.1" rx="6.5" ry="7.8"/>
<ellipse cx="101.0" cy="36.5" rx="6.5" ry="7.8"/><ellipse cx="114.1" cy="36.6" rx="6.5" ry="7.8"/><ellipse cx="127.3" cy="36.8" rx="6.5" ry="7.8"/><ellipse cx="140.4" cy="36.9" rx="6.5" ry="7.8"/>
<ellipse cx="153.6" cy="37.1" rx="6.5" ry="7.8"/><ellipse cx="166.7" cy="37.2" rx="6.5" ry="7.8"/><ellipse cx="179.9" cy="37.3" rx="6.5" ry="7.8"/><ellipse cx="206.2" cy="37.6" rx="6.5" ry="7.8"/>
<ellipse cx="230.7" cy="34.4" rx="6.5" ry="7.8"/><ellipse cx="243.8" cy="34.5" rx="6.5" ry="7.8"/><ellipse cx="257.0" cy="34.7" rx="6.5" ry="7.8"/><ellipse cx="270.1" cy="34.8" rx="6.5" ry="7.8"/>
<ellipse cx="283.3" cy="34.9" rx="6.5" ry="7.8"/><ellipse cx="296.4" cy="35.1" rx="6.5" ry="7.8"/><ellipse cx="309.6" cy="35.3" rx="6.5" ry="7.8"/><ellipse cx="322.7" cy="35.7" rx="6.5" ry="7.8"/>
<ellipse cx="335.9" cy="36.3" rx="6.5" ry="7.8"/><ellipse cx="350.3" cy="39.3" rx="6.5" ry="7.8"/><ellipse cx="364.0" cy="41.3" rx="6.5" ry="7.8"/><ellipse cx="377.1" cy="42.4" rx="6.5" ry="7.8"/>
<ellipse cx="390.3" cy="43.6" rx="6.5" ry="7.8"/><ellipse cx="403.4" cy="45.0" rx="6.5" ry="7.8"/><ellipse cx="416.6" cy="46.5" rx="6.5" ry="7.8"/><ellipse cx="429.7" cy="48.3" rx="6.5" ry="7.8"/>
<ellipse cx="442.9" cy="50.2" rx="6.5" ry="7.8"/><ellipse cx="456.0" cy="52.3" rx="6.5" ry="7.8"/><ellipse cx="495.5" cy="59.5" rx="6.5" ry="7.8"/><ellipse cx="94.4" cy="50.2" rx="6.5" ry="7.8"/>
<ellipse cx="107.5" cy="50.4" rx="6.5" ry="7.8"/><ellipse cx="120.7" cy="50.5" rx="6.5" ry="7.8"/><ellipse cx="133.8" cy="50.7" rx="6.5" ry="7.8"/><ellipse cx="147.0" cy="50.8" rx="6.5" ry="7.8"/>
<ellipse cx="160.1" cy="50.9" rx="6.5" ry="7.8"/><ellipse cx="173.3" cy="51.1" rx="6.5" ry="7.8"/><ellipse cx="186.4" cy="51.2" rx="6.5" ry="7.8"/><ellipse cx="224.2" cy="48.4" rx="6.5" ry="7.8"/>
<ellipse cx="289.8" cy="48.8" rx="6.5" ry="7.8"/><ellipse cx="303.0" cy="49.0" rx="6.5" ry="7.8"/><ellipse cx="316.1" cy="49.3" rx="6.5" ry="7.8"/><ellipse cx="329.3" cy="49.7" rx="6.5" ry="7.8"/>
<ellipse cx="343.0" cy="51.4" rx="6.5" ry="7.8"/><ellipse cx="357.3" cy="54.5" rx="6.5" ry="7.8"/><ellipse cx="370.5" cy="55.6" rx="6.5" ry="7.8"/><ellipse cx="383.7" cy="56.7" rx="6.5" ry="7.8"/>
<ellipse cx="396.8" cy="58.1" rx="6.5" ry="7.8"/><ellipse cx="410.0" cy="59.5" rx="6.5" ry="7.8"/><ellipse cx="423.1" cy="61.2" rx="6.5" ry="7.8"/><ellipse cx="436.3" cy="63.0" rx="6.5" ry="7.8"/>
<ellipse cx="449.4" cy="65.0" rx="6.5" ry="7.8"/><ellipse cx="462.6" cy="67.2" rx="6.5" ry="7.8"/><ellipse cx="475.7" cy="69.5" rx="6.5" ry="7.8"/><ellipse cx="488.9" cy="72.0" rx="6.5" ry="7.8"/>
<ellipse cx="502.0" cy="74.7" rx="6.5" ry="7.8"/><ellipse cx="87.8" cy="64.0" rx="6.5" ry="7.8"/><ellipse cx="101.0" cy="64.1" rx="6.5" ry="7.8"/><ellipse cx="114.1" cy="64.2" rx="6.5" ry="7.8"/>
<ellipse cx="127.3" cy="64.4" rx="6.5" ry="7.8"/><ellipse cx="140.4" cy="64.5" rx="6.5" ry="7.8"/><ellipse cx="153.6" cy="64.7" rx="6.5" ry="7.8"/><ellipse cx="166.7" cy="64.8" rx="6.5" ry="7.8"/>
<ellipse cx="179.9" cy="64.9" rx="6.5" ry="7.8"/><ellipse cx="193.0" cy="65.1" rx="6.5" ry="7.8"/><ellipse cx="218.2" cy="63.2" rx="6.5" ry="7.8"/><ellipse cx="230.7" cy="62.0" rx="6.5" ry="7.8"/>
<ellipse cx="322.7" cy="63.3" rx="6.5" ry="7.8"/><ellipse cx="335.9" cy="63.9" rx="6.5" ry="7.8"/><ellipse cx="350.3" cy="66.9" rx="6.5" ry="7.8"/><ellipse cx="364.0" cy="68.9" rx="6.5" ry="7.8"/>
<ellipse cx="377.1" cy="70.0" rx="6.5" ry="7.8"/><ellipse cx="390.3" cy="71.2" rx="6.5" ry="7.8"/><ellipse cx="403.4" cy="72.6" rx="6.5" ry="7.8"/><ellipse cx="416.6" cy="74.1" rx="6.5" ry="7.8"/>
<ellipse cx="429.7" cy="75.9" rx="6.5" ry="7.8"/><ellipse cx="442.9" cy="77.8" rx="6.5" ry="7.8"/><ellipse cx="456.0" cy="79.9" rx="6.5" ry="7.8"/><ellipse cx="469.2" cy="82.1" rx="6.5" ry="7.8"/>
<ellipse cx="482.3" cy="84.5" rx="6.5" ry="7.8"/><ellipse cx="495.5" cy="87.1" rx="6.5" ry="7.8"/><ellipse cx="94.4" cy="77.8" rx="6.5" ry="7.8"/><ellipse cx="107.5" cy="78.0" rx="6.5" ry="7.8"/>
<ellipse cx="120.7" cy="78.1" rx="6.5" ry="7.8"/><ellipse cx="133.8" cy="78.3" rx="6.5" ry="7.8"/><ellipse cx="147.0" cy="78.4" rx="6.5" ry="7.8"/><ellipse cx="160.1" cy="78.5" rx="6.5" ry="7.8"/>
<ellipse cx="173.3" cy="78.7" rx="6.5" ry="7.8"/><ellipse cx="186.4" cy="78.8" rx="6.5" ry="7.8"/><ellipse cx="199.6" cy="78.9" rx="6.5" ry="7.8"/><ellipse cx="212.3" cy="78.3" rx="6.5" ry="7.8"/>
<ellipse cx="224.2" cy="76.0" rx="6.5" ry="7.8"/><ellipse cx="237.2" cy="75.9" rx="6.5" ry="7.8"/><ellipse cx="289.8" cy="76.4" rx="6.5" ry="7.8"/><ellipse cx="303.0" cy="76.6" rx="6.5" ry="7.8"/>
<ellipse cx="316.1" cy="76.9" rx="6.5" ry="7.8"/><ellipse cx="329.3" cy="77.3" rx="6.5" ry="7.8"/><ellipse cx="357.3" cy="82.1" rx="6.5" ry="7.8"/><ellipse cx="370.5" cy="83.2" rx="6.5" ry="7.8"/>
<ellipse cx="383.7" cy="84.3" rx="6.5" ry="7.8"/><ellipse cx="396.8" cy="85.7" rx="6.5" ry="7.8"/><ellipse cx="410.0" cy="87.1" rx="6.5" ry="7.8"/><ellipse cx="423.1" cy="88.8" rx="6.5" ry="7.8"/>
<ellipse cx="436.3" cy="90.6" rx="6.5" ry="7.8"/><ellipse cx="449.4" cy="92.6" rx="6.5" ry="7.8"/><ellipse cx="462.6" cy="94.8" rx="6.5" ry="7.8"/><ellipse cx="475.7" cy="97.1" rx="6.5" ry="7.8"/>
<ellipse cx="488.9" cy="99.6" rx="6.5" ry="7.8"/><ellipse cx="502.0" cy="102.3" rx="6.5" ry="7.8"/><ellipse cx="74.7" cy="91.4" rx="6.5" ry="7.8"/><ellipse cx="87.8" cy="91.6" rx="6.5" ry="7.8"/>
<ellipse cx="101.0" cy="91.7" rx="6.5" ry="7.8"/><ellipse cx="114.1" cy="91.8" rx="6.5" ry="7.8"/><ellipse cx="127.3" cy="92.0" rx="6.5" ry="7.8"/><ellipse cx="140.4" cy="92.1" rx="6.5" ry="7.8"/>
<ellipse cx="153.6" cy="92.3" rx="6.5" ry="7.8"/><ellipse cx="166.7" cy="92.4" rx="6.5" ry="7.8"/><ellipse cx="179.9" cy="92.5" rx="6.5" ry="7.8"/><ellipse cx="193.0" cy="92.7" rx="6.5" ry="7.8"/>
<ellipse cx="206.2" cy="92.8" rx="6.5" ry="7.8"/><ellipse cx="219.3" cy="93.0" rx="6.5" ry="7.8"/><ellipse cx="232.5" cy="93.1" rx="6.5" ry="7.8"/><ellipse cx="245.6" cy="93.2" rx="6.5" ry="7.8"/>
<ellipse cx="258.8" cy="93.4" rx="6.5" ry="7.8"/><ellipse cx="271.9" cy="93.5" rx="6.5" ry="7.8"/><ellipse cx="285.1" cy="93.6" rx="6.5" ry="7.8"/><ellipse cx="298.2" cy="93.8" rx="6.5" ry="7.8"/>
<ellipse cx="311.4" cy="94.0" rx="6.5" ry="7.8"/><ellipse cx="364.0" cy="96.5" rx="6.5" ry="7.8"/><ellipse cx="377.1" cy="97.6" rx="6.5" ry="7.8"/><ellipse cx="390.3" cy="98.8" rx="6.5" ry="7.8"/>
<ellipse cx="403.4" cy="100.2" rx="6.5" ry="7.8"/><ellipse cx="416.6" cy="101.7" rx="6.5" ry="7.8"/><ellipse cx="429.7" cy="103.5" rx="6.5" ry="7.8"/><ellipse cx="442.9" cy="105.4" rx="6.5" ry="7.8"/>
<ellipse cx="456.0" cy="107.5" rx="6.5" ry="7.8"/><ellipse cx="469.2" cy="109.7" rx="6.5" ry="7.8"/><ellipse cx="482.3" cy="112.1" rx="6.5" ry="7.8"/><ellipse cx="495.5" cy="114.7" rx="6.5" ry="7.8"/>
<ellipse cx="68.1" cy="105.2" rx="6.5" ry="7.8"/><ellipse cx="81.2" cy="105.3" rx="6.5" ry="7.8"/><ellipse cx="107.5" cy="105.6" rx="6.5" ry="7.8"/><ellipse cx="120.7" cy="105.7" rx="6.5" ry="7.8"/>
<ellipse cx="133.8" cy="105.9" rx="6.5" ry="7.8"/><ellipse cx="147.0" cy="106.0" rx="6.5" ry="7.8"/><ellipse cx="160.1" cy="106.1" rx="6.5" ry="7.8"/><ellipse cx="173.3" cy="106.3" rx="6.5" ry="7.8"/>
<ellipse cx="186.4" cy="106.4" rx="6.5" ry="7.8"/><ellipse cx="199.6" cy="106.5" rx="6.5" ry="7.8"/><ellipse cx="212.7" cy="106.7" rx="6.5" ry="7.8"/><ellipse cx="225.9" cy="106.8" rx="6.5" ry="7.8"/>
<ellipse cx="239.0" cy="107.0" rx="6.5" ry="7.8"/><ellipse cx="252.2" cy="107.1" rx="6.5" ry="7.8"/><ellipse cx="265.3" cy="107.2" rx="6.5" ry="7.8"/><ellipse cx="278.5" cy="107.4" rx="6.5" ry="7.8"/>
<ellipse cx="291.6" cy="107.5" rx="6.5" ry="7.8"/><ellipse cx="357.4" cy="109.8" rx="6.5" ry="7.8"/><ellipse cx="370.5" cy="110.8" rx="6.5" ry="7.8"/><ellipse cx="383.7" cy="111.9" rx="6.5" ry="7.8"/>
<ellipse cx="396.8" cy="113.3" rx="6.5" ry="7.8"/><ellipse cx="410.0" cy="114.7" rx="6.5" ry="7.8"/><ellipse cx="423.1" cy="116.4" rx="6.5" ry="7.8"/><ellipse cx="436.3" cy="118.2" rx="6.5" ry="7.8"/>
<ellipse cx="449.4" cy="120.2" rx="6.5" ry="7.8"/><ellipse cx="61.5" cy="118.9" rx="6.5" ry="7.8"/><ellipse cx="74.7" cy="119.0" rx="6.5" ry="7.8"/><ellipse cx="87.8" cy="119.2" rx="6.5" ry="7.8"/>
<ellipse cx="101.0" cy="119.3" rx="6.5" ry="7.8"/><ellipse cx="114.1" cy="119.4" rx="6.5" ry="7.8"/><ellipse cx="127.3" cy="119.6" rx="6.5" ry="7.8"/><ellipse cx="140.4" cy="119.7" rx="6.5" ry="7.8"/>
<ellipse cx="153.6" cy="119.9" rx="6.5" ry="7.8"/><ellipse cx="166.7" cy="120.0" rx="6.5" ry="7.8"/><ellipse cx="179.9" cy="120.1" rx="6.5" ry="7.8"/><ellipse cx="193.0" cy="120.3" rx="6.5" ry="7.8"/>
<ellipse cx="206.2" cy="120.4" rx="6.5" ry="7.8"/><ellipse cx="219.3" cy="120.6" rx="6.5" ry="7.8"/><ellipse cx="232.5" cy="120.7" rx="6.5" ry="7.8"/><ellipse cx="245.6" cy="120.8" rx="6.5" ry="7.8"/>
<ellipse cx="258.8" cy="121.0" rx="6.5" ry="7.8"/><ellipse cx="122.1" cy="13.1" rx="6.5" ry="7.8"/><ellipse cx="135.3" cy="12.9" rx="6.5" ry="7.8"/><ellipse cx="148.4" cy="12.8" rx="6.5" ry="7.8"/>
<ellipse cx="161.6" cy="12.6" rx="6.5" ry="7.8"/><ellipse cx="174.7" cy="12.4" rx="6.5" ry="7.8"/><ellipse cx="187.9" cy="12.2" rx="6.5" ry="7.8"/><ellipse cx="358.7" cy="11.2" rx="6.5" ry="7.8"/>
<ellipse cx="372.0" cy="11.9" rx="6.5" ry="7.8"/><ellipse cx="385.1" cy="12.7" rx="6.5" ry="7.8"/><ellipse cx="398.3" cy="13.7" rx="6.5" ry="7.8"/><ellipse cx="411.4" cy="14.9" rx="6.5" ry="7.8"/>
<ellipse cx="424.6" cy="16.2" rx="6.5" ry="7.8"/><ellipse cx="437.7" cy="17.7" rx="6.5" ry="7.8"/><ellipse cx="141.9" cy="26.7" rx="6.5" ry="7.8"/><ellipse cx="155.0" cy="26.5" rx="6.5" ry="7.8"/>
<ellipse cx="168.2" cy="26.3" rx="6.5" ry="7.8"/><ellipse cx="181.3" cy="26.1" rx="6.5" ry="7.8"/><ellipse cx="351.3" cy="23.9" rx="6.5" ry="7.8"/><ellipse cx="365.4" cy="25.4" rx="6.5" ry="7.8"/>
<ellipse cx="378.6" cy="26.1" rx="6.5" ry="7.8"/><ellipse cx="391.7" cy="27.0" rx="6.5" ry="7.8"/><ellipse cx="404.9" cy="28.1" rx="6.5" ry="7.8"/><ellipse cx="418.0" cy="29.3" rx="6.5" ry="7.8"/>
<ellipse cx="431.2" cy="30.7" rx="6.5" ry="7.8"/><ellipse cx="444.3" cy="32.3" rx="6.5" ry="7.8"/><ellipse cx="109.0" cy="40.9" rx="6.5" ry="7.8"/><ellipse cx="122.1" cy="40.7" rx="6.5" ry="7.8"/>
<ellipse cx="135.3" cy="40.5" rx="6.5" ry="7.8"/><ellipse cx="148.4" cy="40.4" rx="6.5" ry="7.8"/><ellipse cx="161.6" cy="40.2" rx="6.5" ry="7.8"/><ellipse cx="174.7" cy="40.0" rx="6.5" ry="7.8"/>
<ellipse cx="237.2" cy="36.0" rx="6.5" ry="7.8"/><ellipse cx="250.4" cy="35.8" rx="6.5" ry="7.8"/><ellipse cx="263.5" cy="35.6" rx="6.5" ry="7.8"/><ellipse cx="276.7" cy="35.4" rx="6.5" ry="7.8"/>
<ellipse cx="316.1" cy="35.0" rx="6.5" ry="7.8"/><ellipse cx="343.4" cy="36.3" rx="6.5" ry="7.8"/><ellipse cx="358.7" cy="38.8" rx="6.5" ry="7.8"/><ellipse cx="372.0" cy="39.5" rx="6.5" ry="7.8"/>
<ellipse cx="385.1" cy="40.3" rx="6.5" ry="7.8"/><ellipse cx="398.3" cy="41.3" rx="6.5" ry="7.8"/><ellipse cx="411.4" cy="42.5" rx="6.5" ry="7.8"/><ellipse cx="424.6" cy="43.8" rx="6.5" ry="7.8"/>
<ellipse cx="437.7" cy="45.3" rx="6.5" ry="7.8"/><ellipse cx="450.9" cy="46.9" rx="6.5" ry="7.8"/><ellipse cx="115.6" cy="54.6" rx="6.5" ry="7.8"/><ellipse cx="128.7" cy="54.4" rx="6.5" ry="7.8"/>
<ellipse cx="141.9" cy="54.3" rx="6.5" ry="7.8"/><ellipse cx="155.0" cy="54.1" rx="6.5" ry="7.8"/><ellipse cx="168.2" cy="53.9" rx="6.5" ry="7.8"/><ellipse cx="181.3" cy="53.7" rx="6.5" ry="7.8"/>
<ellipse cx="283.3" cy="49.1" rx="6.5" ry="7.8"/><ellipse cx="296.4" cy="48.9" rx="6.5" ry="7.8"/><ellipse cx="309.6" cy="48.8" rx="6.5" ry="7.8"/><ellipse cx="322.7" cy="48.8" rx="6.5" ry="7.8"/>
<ellipse cx="336.0" cy="49.1" rx="6.5" ry="7.8"/><ellipse cx="351.3" cy="51.5" rx="6.5" ry="7.8"/><ellipse cx="365.4" cy="53.0" rx="6.5" ry="7.8"/><ellipse cx="378.6" cy="53.7" rx="6.5" ry="7.8"/>
<ellipse cx="391.7" cy="54.6" rx="6.5" ry="7.8"/><ellipse cx="404.9" cy="55.7" rx="6.5" ry="7.8"/><ellipse cx="418.0" cy="56.9" rx="6.5" ry="7.8"/><ellipse cx="431.2" cy="58.3" rx="6.5" ry="7.8"/>
<ellipse cx="444.3" cy="59.9" rx="6.5" ry="7.8"/><ellipse cx="457.5" cy="61.6" rx="6.5" ry="7.8"/><ellipse cx="470.6" cy="63.5" rx="6.5" ry="7.8"/><ellipse cx="95.8" cy="68.7" rx="6.5" ry="7.8"/>
<ellipse cx="109.0" cy="68.5" rx="6.5" ry="7.8"/><ellipse cx="122.1" cy="68.3" rx="6.5" ry="7.8"/><ellipse cx="135.3" cy="68.1" rx="6.5" ry="7.8"/><ellipse cx="148.4" cy="68.0" rx="6.5" ry="7.8"/>
<ellipse cx="161.6" cy="67.8" rx="6.5" ry="7.8"/><ellipse cx="174.7" cy="67.6" rx="6.5" ry="7.8"/><ellipse cx="187.9" cy="67.4" rx="6.5" ry="7.8"/><ellipse cx="316.1" cy="62.6" rx="6.5" ry="7.8"/>
<ellipse cx="329.3" cy="62.7" rx="6.5" ry="7.8"/><ellipse cx="343.4" cy="63.9" rx="6.5" ry="7.8"/><ellipse cx="358.7" cy="66.4" rx="6.5" ry="7.8"/><ellipse cx="372.0" cy="67.1" rx="6.5" ry="7.8"/>
<ellipse cx="385.1" cy="67.9" rx="6.5" ry="7.8"/><ellipse cx="398.3" cy="68.9" rx="6.5" ry="7.8"/><ellipse cx="411.4" cy="70.1" rx="6.5" ry="7.8"/><ellipse cx="424.6" cy="71.4" rx="6.5" ry="7.8"/>
<ellipse cx="437.7" cy="72.9" rx="6.5" ry="7.8"/><ellipse cx="450.9" cy="74.5" rx="6.5" ry="7.8"/><ellipse cx="464.0" cy="76.4" rx="6.5" ry="7.8"/><ellipse cx="477.2" cy="78.4" rx="6.5" ry="7.8"/>
<ellipse cx="490.3" cy="80.5" rx="6.5" ry="7.8"/><ellipse cx="503.5" cy="82.9" rx="6.5" ry="7.8"/><ellipse cx="102.4" cy="82.4" rx="6.5" ry="7.8"/><ellipse cx="115.6" cy="82.2" rx="6.5" ry="7.8"/>
<ellipse cx="128.7" cy="82.0" rx="6.5" ry="7.8"/><ellipse cx="141.9" cy="81.9" rx="6.5" ry="7.8"/><ellipse cx="155.0" cy="81.7" rx="6.5" ry="7.8"/><ellipse cx="168.2" cy="81.5" rx="6.5" ry="7.8"/>
<ellipse cx="181.3" cy="81.3" rx="6.5" ry="7.8"/><ellipse cx="194.5" cy="81.1" rx="6.5" ry="7.8"/><ellipse cx="351.3" cy="79.1" rx="6.5" ry="7.8"/><ellipse cx="365.4" cy="80.6" rx="6.5" ry="7.8"/>
<ellipse cx="378.6" cy="81.3" rx="6.5" ry="7.8"/><ellipse cx="391.7" cy="82.2" rx="6.5" ry="7.8"/><ellipse cx="404.9" cy="83.3" rx="6.5" ry="7.8"/><ellipse cx="418.0" cy="84.5" rx="6.5" ry="7.8"/>
<ellipse cx="431.2" cy="85.9" rx="6.5" ry="7.8"/><ellipse cx="444.3" cy="87.5" rx="6.5" ry="7.8"/><ellipse cx="457.5" cy="89.2" rx="6.5" ry="7.8"/><ellipse cx="470.6" cy="91.1" rx="6.5" ry="7.8"/>
<ellipse cx="483.8" cy="93.2" rx="6.5" ry="7.8"/><ellipse cx="496.9" cy="95.5" rx="6.5" ry="7.8"/><ellipse cx="69.5" cy="96.7" rx="6.5" ry="7.8"/><ellipse cx="82.7" cy="96.5" rx="6.5" ry="7.8"/>
<ellipse cx="95.8" cy="96.3" rx="6.5" ry="7.8"/><ellipse cx="109.0" cy="96.1" rx="6.5" ry="7.8"/><ellipse cx="122.1" cy="95.9" rx="6.5" ry="7.8"/><ellipse cx="135.3" cy="95.7" rx="6.5" ry="7.8"/>
<ellipse cx="148.4" cy="95.6" rx="6.5" ry="7.8"/><ellipse cx="161.6" cy="95.4" rx="6.5" ry="7.8"/><ellipse cx="174.7" cy="95.2" rx="6.5" ry="7.8"/><ellipse cx="187.9" cy="95.0" rx="6.5" ry="7.8"/>
<ellipse cx="201.0" cy="94.8" rx="6.5" ry="7.8"/><ellipse cx="214.2" cy="94.6" rx="6.5" ry="7.8"/><ellipse cx="227.3" cy="94.4" rx="6.5" ry="7.8"/><ellipse cx="240.5" cy="94.2" rx="6.5" ry="7.8"/>
<ellipse cx="253.6" cy="94.0" rx="6.5" ry="7.8"/><ellipse cx="266.8" cy="93.8" rx="6.5" ry="7.8"/><ellipse cx="279.9" cy="93.6" rx="6.5" ry="7.8"/><ellipse cx="293.1" cy="93.4" rx="6.5" ry="7.8"/>
<ellipse cx="358.8" cy="94.1" rx="6.5" ry="7.8"/><ellipse cx="372.0" cy="94.7" rx="6.5" ry="7.8"/><ellipse cx="385.1" cy="95.5" rx="6.5" ry="7.8"/><ellipse cx="398.3" cy="96.5" rx="6.5" ry="7.8"/>
<ellipse cx="411.4" cy="97.7" rx="6.5" ry="7.8"/><ellipse cx="424.6" cy="99.0" rx="6.5" ry="7.8"/><ellipse cx="437.7" cy="100.5" rx="6.5" ry="7.8"/><ellipse cx="450.9" cy="102.1" rx="6.5" ry="7.8"/>
<ellipse cx="464.0" cy="104.0" rx="6.5" ry="7.8"/><ellipse cx="477.2" cy="106.0" rx="6.5" ry="7.8"/><ellipse cx="490.3" cy="108.1" rx="6.5" ry="7.8"/><ellipse cx="503.5" cy="110.5" rx="6.5" ry="7.8"/>
<ellipse cx="63.0" cy="110.6" rx="6.5" ry="7.8"/><ellipse cx="89.3" cy="110.2" rx="6.5" ry="7.8"/><ellipse cx="102.4" cy="110.0" rx="6.5" ry="7.8"/><ellipse cx="115.6" cy="109.8" rx="6.5" ry="7.8"/>
<ellipse cx="128.7" cy="109.6" rx="6.5" ry="7.8"/><ellipse cx="141.9" cy="109.5" rx="6.5" ry="7.8"/><ellipse cx="155.0" cy="109.3" rx="6.5" ry="7.8"/><ellipse cx="168.2" cy="109.1" rx="6.5" ry="7.8"/>
<ellipse cx="181.3" cy="108.9" rx="6.5" ry="7.8"/><ellipse cx="194.5" cy="108.7" rx="6.5" ry="7.8"/><ellipse cx="207.6" cy="108.5" rx="6.5" ry="7.8"/><ellipse cx="220.8" cy="108.3" rx="6.5" ry="7.8"/>
<ellipse cx="233.9" cy="108.1" rx="6.5" ry="7.8"/><ellipse cx="247.1" cy="107.9" rx="6.5" ry="7.8"/><ellipse cx="260.2" cy="107.7" rx="6.5" ry="7.8"/><ellipse cx="273.4" cy="107.5" rx="6.5" ry="7.8"/>
<ellipse cx="286.5" cy="107.3" rx="6.5" ry="7.8"/><ellipse cx="299.7" cy="107.1" rx="6.5" ry="7.8"/><ellipse cx="365.4" cy="108.2" rx="6.5" ry="7.8"/><ellipse cx="378.6" cy="108.9" rx="6.5" ry="7.8"/>
<ellipse cx="391.7" cy="109.8" rx="6.5" ry="7.8"/><ellipse cx="404.9" cy="110.9" rx="6.5" ry="7.8"/><ellipse cx="418.0" cy="112.1" rx="6.5" ry="7.8"/><ellipse cx="431.2" cy="113.5" rx="6.5" ry="7.8"/>
<ellipse cx="444.3" cy="115.1" rx="6.5" ry="7.8"/><ellipse cx="457.5" cy="116.8" rx="6.5" ry="7.8"/><ellipse cx="470.6" cy="118.7" rx="6.5" ry="7.8"/><ellipse cx="483.8" cy="120.8" rx="6.5" ry="7.8"/>
<ellipse cx="445.4" cy="17.9" rx="6.5" ry="7.8"/><ellipse cx="462.3" cy="20.5" rx="6.5" ry="7.8"/><ellipse cx="476.6" cy="22.4" rx="6.5" ry="7.8"/><ellipse cx="454.5" cy="29.6" rx="6.5" ry="7.8"/>
<ellipse cx="448.5" cy="27.6" rx="6.5" ry="7.8"/><ellipse cx="467.5" cy="38.7" rx="6.5" ry="7.8"/><ellipse cx="470.7" cy="51.7" rx="6.5" ry="7.8"/><ellipse cx="481.0" cy="50.0" rx="6.5" ry="7.8"/>
<ellipse cx="308.0" cy="105.5" rx="6.5" ry="7.8"/><ellipse cx="366.0" cy="22.0" rx="6.5" ry="7.8"/><ellipse cx="379.0" cy="22.0" rx="6.5" ry="7.8"/><ellipse cx="372.5" cy="36.0" rx="6.5" ry="7.8"/>
<ellipse cx="386.0" cy="37.0" rx="6.5" ry="7.8"/><ellipse cx="115.0" cy="52.0" rx="6.5" ry="7.8"/><ellipse cx="131.0" cy="22.0" rx="6.5" ry="7.8"/><ellipse cx="123.0" cy="16.5" rx="6.5" ry="7.8"/>
<ellipse cx="86.8" cy="99.0" rx="6.5" ry="7.8"/><ellipse cx="99.8" cy="99.0" rx="6.5" ry="7.8"/>
</g></g>
<g filter="url(#m2)" clip-path="url(#c2)"><g fill="#000" fill-opacity="0.25">
<ellipse cx="89.7" cy="208.8" rx="6.5" ry="7.8"/><ellipse cx="66.2" cy="235.8" rx="6.5" ry="7.8"/><ellipse cx="101.8" cy="237.0" rx="6.5" ry="7.8"/><ellipse cx="129.9" cy="204.1" rx="6.5" ry="7.8"/><ellipse cx="129.9" cy="204.1" rx="6.5" ry="7.8"/>
<ellipse cx="135.1" cy="201.1" rx="6.5" ry="7.8"/><ellipse cx="158.0" cy="170.5" rx="6.5" ry="7.8"/><ellipse cx="158.6" cy="173.6" rx="6.5" ry="7.8"/><ellipse cx="169.6" cy="165.6" rx="6.5" ry="7.8"/>
<ellipse cx="205.8" cy="143.2" rx="6.5" ry="7.8"/><ellipse cx="212.7" cy="157.1" rx="6.5" ry="7.8"/><ellipse cx="212.7" cy="157.1" rx="6.5" ry="7.8"/><ellipse cx="212.7" cy="157.1" rx="6.5" ry="7.8"/><ellipse cx="219.8" cy="170.3" rx="6.5" ry="7.8"/><ellipse cx="225.9" cy="181.3" rx="6.5" ry="7.8"/><ellipse cx="225.9" cy="181.3" rx="6.5" ry="7.8"/>
<ellipse cx="231.1" cy="191.7" rx="6.5" ry="7.8"/><ellipse cx="231.1" cy="191.7" rx="6.5" ry="7.8"/><ellipse cx="239.4" cy="204.7" rx="6.5" ry="7.8"/><ellipse cx="252.6" cy="224.0" rx="6.5" ry="7.8"/><ellipse cx="252.6" cy="224.0" rx="6.5" ry="7.8"/><ellipse cx="252.6" cy="224.0" rx="6.5" ry="7.8"/><ellipse cx="252.6" cy="224.0" rx="6.5" ry="7.8"/><ellipse cx="261.7" cy="235.5" rx="6.5" ry="7.8"/>
<ellipse cx="255.6" cy="191.2" rx="6.5" ry="7.8"/><ellipse cx="271.3" cy="191.2" rx="6.5" ry="7.8"/><ellipse cx="287.3" cy="191.6" rx="6.5" ry="7.8"/><ellipse cx="316.0" cy="194.3" rx="6.5" ry="7.8"/><ellipse cx="316.0" cy="194.3" rx="6.5" ry="7.8"/>
<ellipse cx="396.6" cy="175.9" rx="6.5" ry="7.8"/><ellipse cx="396.6" cy="175.9" rx="6.5" ry="7.8"/><ellipse cx="396.6" cy="175.9" rx="6.5" ry="7.8"/><ellipse cx="396.6" cy="175.9" rx="6.5" ry="7.8"/><ellipse cx="396.6" cy="175.9" rx="6.5" ry="7.8"/><ellipse cx="397.2" cy="174.6" rx="6.5" ry="7.8"/><ellipse cx="436.2" cy="146.5" rx="6.5" ry="7.8"/><ellipse cx="457.4" cy="145.1" rx="6.5" ry="7.8"/>
<ellipse cx="477.5" cy="139.0" rx="6.5" ry="7.8"/><ellipse cx="445.1" cy="232.2" rx="6.5" ry="7.8"/><ellipse cx="445.1" cy="232.2" rx="6.5" ry="7.8"/><ellipse cx="445.1" cy="232.2" rx="6.5" ry="7.8"/><ellipse cx="445.1" cy="232.2" rx="6.5" ry="7.8"/><ellipse cx="445.1" cy="232.2" rx="6.5" ry="7.8"/><ellipse cx="448.6" cy="225.9" rx="6.5" ry="7.8"/><ellipse cx="438.2" cy="236.3" rx="6.5" ry="7.8"/>
<ellipse cx="469.0" cy="234.4" rx="6.5" ry="7.8"/><ellipse cx="358.4" cy="245.5" rx="6.5" ry="7.8"/><ellipse cx="330.3" cy="185.0" rx="6.5" ry="7.8"/><ellipse cx="331.9" cy="194.5" rx="6.5" ry="7.8"/>
<ellipse cx="348.2" cy="185.5" rx="6.5" ry="7.8"/><ellipse cx="348.2" cy="185.5" rx="6.5" ry="7.8"/><ellipse cx="352.2" cy="187.1" rx="6.5" ry="7.8"/><ellipse cx="352.2" cy="187.1" rx="6.5" ry="7.8"/><ellipse cx="352.2" cy="187.1" rx="6.5" ry="7.8"/><ellipse cx="353.9" cy="183.5" rx="6.5" ry="7.8"/><ellipse cx="362.4" cy="187.6" rx="6.5" ry="7.8"/><ellipse cx="362.4" cy="187.6" rx="6.5" ry="7.8"/>
<ellipse cx="365.8" cy="187.1" rx="6.5" ry="7.8"/><ellipse cx="365.8" cy="187.1" rx="6.5" ry="7.8"/><ellipse cx="365.8" cy="187.1" rx="6.5" ry="7.8"/><ellipse cx="366.9" cy="184.8" rx="6.5" ry="7.8"/><ellipse cx="373.6" cy="191.3" rx="6.5" ry="7.8"/><ellipse cx="373.6" cy="191.3" rx="6.5" ry="7.8"/><ellipse cx="379.5" cy="192.3" rx="6.5" ry="7.8"/><ellipse cx="379.5" cy="192.3" rx="6.5" ry="7.8"/>
<ellipse cx="388.7" cy="192.7" rx="6.5" ry="7.8"/><ellipse cx="388.7" cy="192.7" rx="6.5" ry="7.8"/><ellipse cx="392.4" cy="191.2" rx="6.5" ry="7.8"/><ellipse cx="393.4" cy="193.8" rx="6.5" ry="7.8"/><ellipse cx="340.1" cy="198.2" rx="6.5" ry="7.8"/><ellipse cx="340.1" cy="198.2" rx="6.5" ry="7.8"/><ellipse cx="340.1" cy="198.2" rx="6.5" ry="7.8"/>
<ellipse cx="343.5" cy="202.5" rx="6.5" ry="7.8"/><ellipse cx="343.5" cy="202.5" rx="6.5" ry="7.8"/><ellipse cx="355.2" cy="200.7" rx="6.5" ry="7.8"/><ellipse cx="355.2" cy="200.7" rx="6.5" ry="7.8"/><ellipse cx="355.2" cy="200.7" rx="6.5" ry="7.8"/><ellipse cx="356.9" cy="204.1" rx="6.5" ry="7.8"/><ellipse cx="356.9" cy="204.1" rx="6.5" ry="7.8"/><ellipse cx="368.9" cy="202.2" rx="6.5" ry="7.8"/><ellipse cx="368.9" cy="202.2" rx="6.5" ry="7.8"/>
<ellipse cx="371.1" cy="205.6" rx="6.5" ry="7.8"/><ellipse cx="371.1" cy="205.6" rx="6.5" ry="7.8"/><ellipse cx="382.0" cy="204.6" rx="6.5" ry="7.8"/><ellipse cx="382.0" cy="204.6" rx="6.5" ry="7.8"/><ellipse cx="385.0" cy="207.6" rx="6.5" ry="7.8"/>
</g></g>
<g clip-path="url(#c3)">
<ellipse cx="340.2" cy="328.5" rx="6.5" ry="8.2" fill="#000"/>
<defs><g id="bp"><ellipse cx="3.0" cy="-1.0" rx="2.9" ry="2.3" fill="#aaa" fill-opacity="0.75"/><path d="M0 -2.2L-2.4 1.7L2.4 1.9Z" fill="#2a2a2a" stroke="#2a2a2a" stroke-width="2.8" stroke-linejoin="round"/><path d="M-1.5 -12.3L1.5 -12.3L0.3 -5.8L-0.3 -5.8Z" fill="#111" stroke="#111" stroke-width="0.5" stroke-linejoin="round"/></g></defs>
<use href="#bp" transform="translate(352.2 326.3) rotate(0.0)"/><use href="#bp" transform="translate(361.0 326.9) rotate(0.0)"/><use href="#bp" transform="translate(370.2 327.4) rotate(0.0)"/><use href="#bp" transform="translate(379.5 327.9) rotate(0.0)"/>
<use href="#bp" transform="translate(389.0 328.5) rotate(-3.5)"/><use href="#bp" transform="translate(397.8 329.2) rotate(-7.0)"/><use href="#bp" transform="translate(406.4 330.0) rotate(-10.5)"/><use href="#bp" transform="translate(414.7 330.8) rotate(-14.0)"/>
<use href="#bp" transform="translate(422.8 331.5) rotate(-17.5)"/><use href="#bp" transform="translate(430.8 332.2) rotate(-21.0)"/><use href="#bp" transform="translate(438.2 333.0) rotate(-24.5)"/><use href="#bp" transform="translate(445.8 333.8) rotate(-28.0)"/>
<use href="#bp" transform="translate(453.2 334.2) rotate(-31.5)"/><use href="#bp" transform="translate(460.8 334.8) rotate(-35.0)"/><use href="#bp" transform="translate(468.2 335.2) rotate(-38.5)"/><use href="#bp" transform="translate(475.7 335.5) rotate(-42.0)"/>
<path d="M455 281L457.5 279.5L460.5 278.5L465 278L469 278.5L471 282L471.5 286L470.5 291L470 295L467 298.5L462.5 302L459 302.8L456 300.5L453.8 296.5L454 292L455 288L454.5 284.5Z" fill="#000" stroke="#000" stroke-width="1" stroke-linejoin="round"/>
<ellipse cx="423.8" cy="360.6" rx="5.8" ry="7.5" fill="#ececec" stroke="#c4c4c4" stroke-width="0.6"/><ellipse cx="431.1" cy="358.8" rx="6.3" ry="7.9" fill="#2a2a2a"/>
</g>
<rect x="65.5" y="14.0" width="428.3" height="97.5" fill="none" stroke="#000" stroke-width="1.4"/>
<path d="M69.5 111.5v-1.4M69.5 14.0v1.4M89.7 111.5v-2.6M89.7 14.0v2.6M109.9 111.5v-1.4M109.9 14.0v1.4M130.1 111.5v-1.4M130.1 14.0v1.4M150.3 111.5v-1.4M150.3 14.0v1.4M170.5 111.5v-2.6M170.5 14.0v2.6M190.7 111.5v-1.4M190.7 14.0v1.4M210.9 111.5v-1.4M210.9 14.0v1.4M231.1 111.5v-1.4M231.1 14.0v1.4M251.3 111.5v-2.6M251.3 14.0v2.6M271.5 111.5v-1.4M271.5 14.0v1.4M291.8 111.5v-1.4M291.8 14.0v1.4M312.0 111.5v-1.4M312.0 14.0v1.4M332.2 111.5v-2.6M332.2 14.0v2.6M352.4 111.5v-1.4M352.4 14.0v1.4M372.6 111.5v-1.4M372.6 14.0v1.4M392.8 111.5v-1.4M392.8 14.0v1.4M413.0 111.5v-2.6M413.0 14.0v2.6M433.2 111.5v-1.4M433.2 14.0v1.4M453.4 111.5v-1.4M453.4 14.0v1.4M473.6 111.5v-1.4M473.6 14.0v1.4M493.8 111.5v-2.6M493.8 14.0v2.6M65.5 106.6h1.4M493.8 106.6h-1.4M65.5 101.8h1.4M493.8 101.8h-1.4M65.5 96.9h1.4M493.8 96.9h-1.4M65.5 92.0h1.4M493.8 92.0h-1.4M65.5 87.1h2.6M493.8 87.1h-2.6M65.5 82.2h1.4M493.8 82.2h-1.4M65.5 77.4h1.4M493.8 77.4h-1.4M65.5 72.5h1.4M493.8 72.5h-1.4M65.5 67.6h1.4M493.8 67.6h-1.4M65.5 62.8h2.6M493.8 62.8h-2.6M65.5 57.9h1.4M493.8 57.9h-1.4M65.5 53.0h1.4M493.8 53.0h-1.4M65.5 48.1h1.4M493.8 48.1h-1.4M65.5 43.2h1.4M493.8 43.2h-1.4M65.5 38.4h2.6M493.8 38.4h-2.6M65.5 33.5h1.4M493.8 33.5h-1.4M65.5 28.6h1.4M493.8 28.6h-1.4M65.5 23.8h1.4M493.8 23.8h-1.4M65.5 18.9h1.4M493.8 18.9h-1.4" stroke="#000" stroke-width="0.5" fill="none"/>
<text class="tk" x="62.8" y="114.2" text-anchor="end">−10</text><text class="tk" x="62.8" y="89.8" text-anchor="end">−5</text><text class="tk" x="62.8" y="65.5" text-anchor="end">0</text><text class="tk" x="62.8" y="41.1" text-anchor="end">5</text><text class="tk" x="62.8" y="16.7" text-anchor="end">10</text>
<text class="tk" x="89.7" y="119.7" text-anchor="middle">−80</text><text class="tk" x="170.5" y="119.7" text-anchor="middle">−60</text><text class="tk" x="251.3" y="119.7" text-anchor="middle">−40</text><text class="tk" x="332.2" y="119.7" text-anchor="middle">−20</text><text class="tk" x="413.0" y="119.7" text-anchor="middle">0</text><text class="tk" x="493.8" y="119.7" text-anchor="middle">20</text>
<rect x="65.5" y="145.8" width="428.3" height="97.2" fill="none" stroke="#000" stroke-width="1.4"/>
<path d="M69.5 243.0v-1.4M69.5 145.8v1.4M89.7 243.0v-2.6M89.7 145.8v2.6M109.9 243.0v-1.4M109.9 145.8v1.4M130.1 243.0v-1.4M130.1 145.8v1.4M150.3 243.0v-1.4M150.3 145.8v1.4M170.5 243.0v-2.6M170.5 145.8v2.6M190.7 243.0v-1.4M190.7 145.8v1.4M210.9 243.0v-1.4M210.9 145.8v1.4M231.1 243.0v-1.4M231.1 145.8v1.4M251.3 243.0v-2.6M251.3 145.8v2.6M271.5 243.0v-1.4M271.5 145.8v1.4M291.8 243.0v-1.4M291.8 145.8v1.4M312.0 243.0v-1.4M312.0 145.8v1.4M332.2 243.0v-2.6M332.2 145.8v2.6M352.4 243.0v-1.4M352.4 145.8v1.4M372.6 243.0v-1.4M372.6 145.8v1.4M392.8 243.0v-1.4M392.8 145.8v1.4M413.0 243.0v-2.6M413.0 145.8v2.6M433.2 243.0v-1.4M433.2 145.8v1.4M453.4 243.0v-1.4M453.4 145.8v1.4M473.6 243.0v-1.4M473.6 145.8v1.4M493.8 243.0v-2.6M493.8 145.8v2.6M65.5 238.1h1.4M493.8 238.1h-1.4M65.5 233.3h1.4M493.8 233.3h-1.4M65.5 228.4h1.4M493.8 228.4h-1.4M65.5 223.6h1.4M493.8 223.6h-1.4M65.5 218.7h2.6M493.8 218.7h-2.6M65.5 213.8h1.4M493.8 213.8h-1.4M65.5 209.0h1.4M493.8 209.0h-1.4M65.5 204.1h1.4M493.8 204.1h-1.4M65.5 199.3h1.4M493.8 199.3h-1.4M65.5 194.4h2.6M493.8 194.4h-2.6M65.5 189.5h1.4M493.8 189.5h-1.4M65.5 184.7h1.4M493.8 184.7h-1.4M65.5 179.8h1.4M493.8 179.8h-1.4M65.5 175.0h1.4M493.8 175.0h-1.4M65.5 170.1h2.6M493.8 170.1h-2.6M65.5 165.2h1.4M493.8 165.2h-1.4M65.5 160.4h1.4M493.8 160.4h-1.4M65.5 155.5h1.4M493.8 155.5h-1.4M65.5 150.7h1.4M493.8 150.7h-1.4" stroke="#000" stroke-width="0.5" fill="none"/>
<text class="tk" x="62.8" y="245.7" text-anchor="end">−10</text><text class="tk" x="62.8" y="221.4" text-anchor="end">−5</text><text class="tk" x="62.8" y="197.1" text-anchor="end">0</text><text class="tk" x="62.8" y="172.8" text-anchor="end">5</text><text class="tk" x="62.8" y="148.5" text-anchor="end">10</text>
<text class="tk" x="89.7" y="251.2" text-anchor="middle">−80</text><text class="tk" x="170.5" y="251.2" text-anchor="middle">−60</text><text class="tk" x="251.3" y="251.2" text-anchor="middle">−40</text><text class="tk" x="332.2" y="251.2" text-anchor="middle">−20</text><text class="tk" x="413.0" y="251.2" text-anchor="middle">0</text><text class="tk" x="493.8" y="251.2" text-anchor="middle">20</text>
<rect x="65.5" y="277.2" width="428.3" height="97.0" fill="none" stroke="#000" stroke-width="1.4"/>
<path d="M69.5 374.2v-1.4M69.5 277.2v1.4M89.7 374.2v-2.6M89.7 277.2v2.6M109.9 374.2v-1.4M109.9 277.2v1.4M130.1 374.2v-1.4M130.1 277.2v1.4M150.3 374.2v-1.4M150.3 277.2v1.4M170.5 374.2v-2.6M170.5 277.2v2.6M190.7 374.2v-1.4M190.7 277.2v1.4M210.9 374.2v-1.4M210.9 277.2v1.4M231.1 374.2v-1.4M231.1 277.2v1.4M251.3 374.2v-2.6M251.3 277.2v2.6M271.5 374.2v-1.4M271.5 277.2v1.4M291.8 374.2v-1.4M291.8 277.2v1.4M312.0 374.2v-1.4M312.0 277.2v1.4M332.2 374.2v-2.6M332.2 277.2v2.6M352.4 374.2v-1.4M352.4 277.2v1.4M372.6 374.2v-1.4M372.6 277.2v1.4M392.8 374.2v-1.4M392.8 277.2v1.4M413.0 374.2v-2.6M413.0 277.2v2.6M433.2 374.2v-1.4M433.2 277.2v1.4M453.4 374.2v-1.4M453.4 277.2v1.4M473.6 374.2v-1.4M473.6 277.2v1.4M493.8 374.2v-2.6M493.8 277.2v2.6M65.5 369.3h1.4M493.8 369.3h-1.4M65.5 364.5h1.4M493.8 364.5h-1.4M65.5 359.6h1.4M493.8 359.6h-1.4M65.5 354.8h1.4M493.8 354.8h-1.4M65.5 349.9h2.6M493.8 349.9h-2.6M65.5 345.1h1.4M493.8 345.1h-1.4M65.5 340.2h1.4M493.8 340.2h-1.4M65.5 335.4h1.4M493.8 335.4h-1.4M65.5 330.6h1.4M493.8 330.6h-1.4M65.5 325.7h2.6M493.8 325.7h-2.6M65.5 320.8h1.4M493.8 320.8h-1.4M65.5 316.0h1.4M493.8 316.0h-1.4M65.5 311.1h1.4M493.8 311.1h-1.4M65.5 306.3h1.4M493.8 306.3h-1.4M65.5 301.4h2.6M493.8 301.4h-2.6M65.5 296.6h1.4M493.8 296.6h-1.4M65.5 291.8h1.4M493.8 291.8h-1.4M65.5 286.9h1.4M493.8 286.9h-1.4M65.5 282.1h1.4M493.8 282.1h-1.4" stroke="#000" stroke-width="0.5" fill="none"/>
<text class="tk" x="62.8" y="376.9" text-anchor="end">−10</text><text class="tk" x="62.8" y="352.6" text-anchor="end">−5</text><text class="tk" x="62.8" y="328.4" text-anchor="end">0</text><text class="tk" x="62.8" y="304.1" text-anchor="end">5</text><text class="tk" x="62.8" y="279.9" text-anchor="end">10</text>
<text class="tk" x="89.7" y="382.4" text-anchor="middle">−80</text><text class="tk" x="170.5" y="382.4" text-anchor="middle">−60</text><text class="tk" x="251.3" y="382.4" text-anchor="middle">−40</text><text class="tk" x="332.2" y="382.4" text-anchor="middle">−20</text><text class="tk" x="413.0" y="382.4" text-anchor="middle">0</text><text class="tk" x="493.8" y="382.4" text-anchor="middle">20</text>
<text class="ti" x="279.6" y="9.6" text-anchor="middle" textLength="151" lengthAdjust="spacingAndGlyphs">Main Survey - Bright Program</text>
<text class="ti" x="279.6" y="141.4" text-anchor="middle" textLength="196" lengthAdjust="spacingAndGlyphs">Survey Validation / Early Data Release</text>
<text class="ti" x="279.6" y="272.8" text-anchor="middle" textLength="161.5" lengthAdjust="spacingAndGlyphs">Special Survey - Bright Program</text>
<text class="al" transform="translate(44.8 62.8) rotate(-90)" text-anchor="middle" textLength="39" lengthAdjust="spacingAndGlyphs"><tspan font-style="italic">ϕ</tspan><tspan font-size="7.4px" dy="1.6">2</tspan><tspan dy="-1.6"> [deg]</tspan></text>
<text class="al" transform="translate(44.8 194.4) rotate(-90)" text-anchor="middle" textLength="39" lengthAdjust="spacingAndGlyphs"><tspan font-style="italic">ϕ</tspan><tspan font-size="7.4px" dy="1.6">2</tspan><tspan dy="-1.6"> [deg]</tspan></text>
<text class="al" transform="translate(44.8 325.7) rotate(-90)" text-anchor="middle" textLength="39" lengthAdjust="spacingAndGlyphs"><tspan font-style="italic">ϕ</tspan><tspan font-size="7.4px" dy="1.6">2</tspan><tspan dy="-1.6"> [deg]</tspan></text>
<text class="al" x="279.6" y="395.3" text-anchor="middle" textLength="38.3" lengthAdjust="spacingAndGlyphs"><tspan font-style="italic">ϕ</tspan><tspan font-size="7.4px" dy="1.6">1</tspan><tspan dy="-1.6"> [deg]</tspan></text>
<rect x="527.6" y="105.00" width="21.2" height="6.80" fill="#30123b"/><rect x="527.6" y="98.50" width="21.2" height="6.80" fill="#4146ac"/><rect x="527.6" y="92.00" width="21.2" height="6.80" fill="#4776ee"/><rect x="527.6" y="85.50" width="21.2" height="6.80" fill="#3aa3fc"/><rect x="527.6" y="79.00" width="21.2" height="6.80" fill="#1bd0d5"/><rect x="527.6" y="72.50" width="21.2" height="6.80" fill="#25eca7"/><rect x="527.6" y="66.00" width="21.2" height="6.80" fill="#61fc6c"/><rect x="527.6" y="59.50" width="21.2" height="6.80" fill="#a4fc3c"/><rect x="527.6" y="53.00" width="21.2" height="6.80" fill="#d2e935"/><rect x="527.6" y="46.50" width="21.2" height="6.80" fill="#f4c73a"/><rect x="527.6" y="40.00" width="21.2" height="6.80" fill="#fe9b2d"/><rect x="527.6" y="33.50" width="21.2" height="6.80" fill="#f36315"/><rect x="527.6" y="27.00" width="21.2" height="6.80" fill="#da3907"/><rect x="527.6" y="20.50" width="21.2" height="6.80" fill="#b21a01"/><rect x="527.6" y="14.00" width="21.2" height="6.80" fill="#7a0403"/>
<rect x="527.6" y="14.0" width="21.2" height="97.5" fill="none" stroke="#000" stroke-width="1.3"/>
<text class="cb" x="550.5" y="113.3">0</text><text class="cb" x="550.5" y="93.8">1</text><text class="cb" x="550.5" y="74.3">2</text><text class="cb" x="550.5" y="54.8">3</text><text class="cb" x="550.5" y="35.3">4</text><text class="cb" x="550.5" y="15.8">5</text>
<path d="M548.8 92.0h-2M548.8 72.5h-2M548.8 53.0h-2M548.8 33.5h-2" stroke="#000" stroke-width="0.5" fill="none"/>
<text class="cl" transform="translate(562.4 62.8) rotate(-90)" text-anchor="middle" textLength="57.5" lengthAdjust="spacingAndGlyphs">Number of passes</text>
<rect x="527.6" y="236.52" width="21.2" height="6.78" fill="#30123b"/><rect x="527.6" y="230.04" width="21.2" height="6.78" fill="#4146ac"/><rect x="527.6" y="223.56" width="21.2" height="6.78" fill="#4776ee"/><rect x="527.6" y="217.08" width="21.2" height="6.78" fill="#3aa3fc"/><rect x="527.6" y="210.60" width="21.2" height="6.78" fill="#1bd0d5"/><rect x="527.6" y="204.12" width="21.2" height="6.78" fill="#25eca7"/><rect x="527.6" y="197.64" width="21.2" height="6.78" fill="#61fc6c"/><rect x="527.6" y="191.16" width="21.2" height="6.78" fill="#a4fc3c"/><rect x="527.6" y="184.68" width="21.2" height="6.78" fill="#d2e935"/><rect x="527.6" y="178.20" width="21.2" height="6.78" fill="#f4c73a"/><rect x="527.6" y="171.72" width="21.2" height="6.78" fill="#fe9b2d"/><rect x="527.6" y="165.24" width="21.2" height="6.78" fill="#f36315"/><rect x="527.6" y="158.76" width="21.2" height="6.78" fill="#da3907"/><rect x="527.6" y="152.28" width="21.2" height="6.78" fill="#b21a01"/><rect x="527.6" y="145.80" width="21.2" height="6.78" fill="#7a0403"/>
<rect x="527.6" y="145.8" width="21.2" height="97.2" fill="none" stroke="#000" stroke-width="1.3"/>
<text class="cb" x="550.5" y="244.8">0</text><text class="cb" x="550.5" y="225.4">1</text><text class="cb" x="550.5" y="205.9">2</text><text class="cb" x="550.5" y="186.5">3</text><text class="cb" x="550.5" y="167.0">4</text><text class="cb" x="550.5" y="147.6">5</text>
<path d="M548.8 223.6h-2M548.8 204.1h-2M548.8 184.7h-2M548.8 165.2h-2" stroke="#000" stroke-width="0.5" fill="none"/>
<text class="cl" transform="translate(562.4 194.4) rotate(-90)" text-anchor="middle" textLength="57.5" lengthAdjust="spacingAndGlyphs">Number of passes</text>
</svg>
</body></html>
